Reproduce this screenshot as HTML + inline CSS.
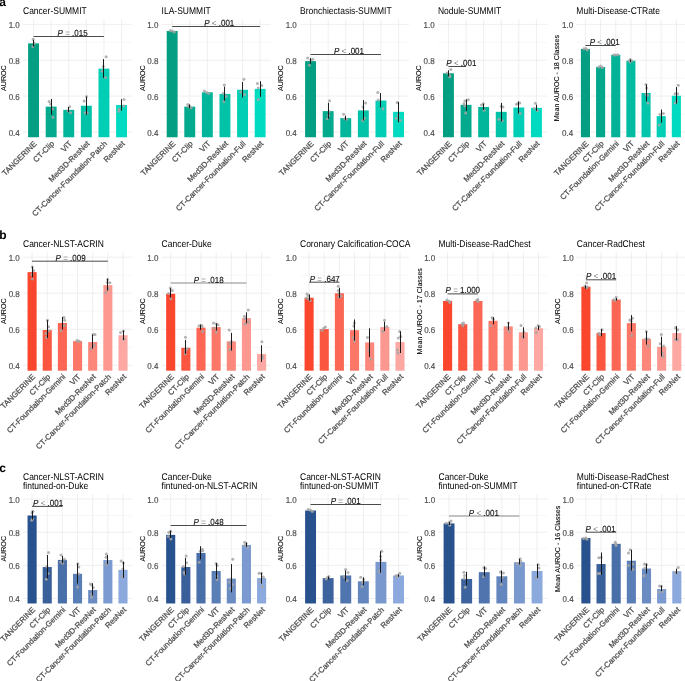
<!DOCTYPE html>
<html><head><meta charset="utf-8"><style>
html,body{margin:0;padding:0;background:#fff;overflow:hidden;width:685px;height:681px;}
svg{display:block;font-family:"Liberation Sans", sans-serif;will-change:transform;}
text{text-rendering:geometricPrecision;}
</style></head><body>
<svg width="685" height="681" viewBox="0 0 685 681">
<rect width="685" height="681" fill="#fff"/>
<text x="-0.8" y="5.7" font-size="12" font-weight="bold" fill="#000">a</text>
<text x="-0.8" y="238.6" font-size="12" font-weight="bold" fill="#000">b</text>
<text x="-0.8" y="472" font-size="12" font-weight="bold" fill="#000">c</text>
<path d="M23 113.98H132.1M23 78.15H132.1M23 42.32H132.1" stroke="#f2f2f2" stroke-width="0.6" fill="none"/>
<path d="M23 131.9H132.1M23 96.07H132.1M23 60.23H132.1M23 24.4H132.1M33.56 19.02V137.28M51.15 19.02V137.28M68.75 19.02V137.28M86.35 19.02V137.28M103.95 19.02V137.28M121.54 19.02V137.28" stroke="#ebebeb" stroke-width="0.8" fill="none"/>
<text transform="translate(19.8,135.5) scale(1,1.08)" text-anchor="end" font-size="8.0" fill="#4d4d4d" stroke="#4d4d4d" stroke-width="0.15">0.4</text>
<text transform="translate(19.8,99.67) scale(1,1.08)" text-anchor="end" font-size="8.0" fill="#4d4d4d" stroke="#4d4d4d" stroke-width="0.15">0.6</text>
<text transform="translate(19.8,63.83) scale(1,1.08)" text-anchor="end" font-size="8.0" fill="#4d4d4d" stroke="#4d4d4d" stroke-width="0.15">0.8</text>
<text transform="translate(19.8,28) scale(1,1.08)" text-anchor="end" font-size="8.0" fill="#4d4d4d" stroke="#4d4d4d" stroke-width="0.15">1.0</text>
<text transform="translate(6,78.15) rotate(-90)" text-anchor="middle" font-size="7.1" fill="#000" stroke="#000" stroke-width="0.1">AUROC</text>
<text transform="translate(23,13.6) scale(1,1.15)" font-size="8.5" fill="#000" stroke="#000" stroke-width="0.0">Cancer-SUMMIT</text>
<rect x="28.1" y="43.39" width="10.91" height="93.88" fill="#049e82"/>
<rect x="45.7" y="106.64" width="10.91" height="30.64" fill="#03aa8e"/>
<rect x="63.3" y="109.86" width="10.91" height="27.41" fill="#02b69b"/>
<rect x="80.89" y="105.74" width="10.91" height="31.53" fill="#02c2a7"/>
<rect x="98.49" y="68.65" width="10.91" height="68.62" fill="#01ceb4"/>
<rect x="116.09" y="105.03" width="10.91" height="32.25" fill="#00dac0"/>
<circle cx="33.2" cy="39.3" r="1.5" fill="#a6a6a6" fill-opacity="0.85"/>
<circle cx="32.9" cy="46.5" r="1.5" fill="#a6a6a6" fill-opacity="0.85"/>
<circle cx="34.3" cy="43.2" r="1.5" fill="#a6a6a6" fill-opacity="0.85"/>
<line x1="33.5" y1="39.9" x2="33.5" y2="46.5" stroke="#111" stroke-width="0.95"/>
<circle cx="49.1" cy="101.4" r="1.5" fill="#a6a6a6" fill-opacity="0.85"/>
<circle cx="52.8" cy="109.1" r="1.5" fill="#a6a6a6" fill-opacity="0.85"/>
<circle cx="53" cy="117.3" r="1.5" fill="#a6a6a6" fill-opacity="0.85"/>
<circle cx="50.5" cy="104" r="1.5" fill="#a6a6a6" fill-opacity="0.85"/>
<line x1="51.5" y1="99" x2="51.5" y2="114.7" stroke="#111" stroke-width="0.95"/>
<circle cx="69.7" cy="106.7" r="1.5" fill="#a6a6a6" fill-opacity="0.85"/>
<circle cx="70.6" cy="112.7" r="1.5" fill="#a6a6a6" fill-opacity="0.85"/>
<circle cx="68" cy="110.7" r="1.5" fill="#a6a6a6" fill-opacity="0.85"/>
<line x1="68.5" y1="107" x2="68.5" y2="112" stroke="#111" stroke-width="0.95"/>
<circle cx="84.1" cy="101.1" r="1.5" fill="#a6a6a6" fill-opacity="0.85"/>
<circle cx="85" cy="112.8" r="1.5" fill="#a6a6a6" fill-opacity="0.85"/>
<circle cx="87.2" cy="112.8" r="1.5" fill="#a6a6a6" fill-opacity="0.85"/>
<circle cx="86.5" cy="96.6" r="1.5" fill="#a6a6a6" fill-opacity="0.85"/>
<line x1="86.5" y1="96.6" x2="86.5" y2="114.8" stroke="#111" stroke-width="0.95"/>
<circle cx="106.2" cy="56.7" r="1.5" fill="#a6a6a6" fill-opacity="0.85"/>
<circle cx="103.2" cy="66.5" r="1.5" fill="#a6a6a6" fill-opacity="0.85"/>
<circle cx="102.1" cy="71.1" r="1.5" fill="#a6a6a6" fill-opacity="0.85"/>
<circle cx="105.6" cy="77.6" r="1.5" fill="#a6a6a6" fill-opacity="0.85"/>
<line x1="103.5" y1="59.1" x2="103.5" y2="77.9" stroke="#111" stroke-width="0.95"/>
<circle cx="124" cy="99.6" r="1.5" fill="#a6a6a6" fill-opacity="0.85"/>
<circle cx="123.8" cy="106" r="1.5" fill="#a6a6a6" fill-opacity="0.85"/>
<circle cx="119.1" cy="109" r="1.5" fill="#a6a6a6" fill-opacity="0.85"/>
<circle cx="118.8" cy="111.3" r="1.5" fill="#a6a6a6" fill-opacity="0.85"/>
<line x1="121.5" y1="99.2" x2="121.5" y2="110.7" stroke="#111" stroke-width="0.95"/>
<text transform="translate(37.26,144.2) rotate(-45)" text-anchor="end" font-size="7.85" fill="#4d4d4d" stroke="#4d4d4d" stroke-width="0.25">TANGERINE</text>
<text transform="translate(54.85,144.2) rotate(-45)" text-anchor="end" font-size="7.85" fill="#4d4d4d" stroke="#4d4d4d" stroke-width="0.25">CT-Clip</text>
<text transform="translate(72.45,144.2) rotate(-45)" text-anchor="end" font-size="7.85" fill="#4d4d4d" stroke="#4d4d4d" stroke-width="0.25">ViT</text>
<text transform="translate(90.05,144.2) rotate(-45)" text-anchor="end" font-size="7.85" fill="#4d4d4d" stroke="#4d4d4d" stroke-width="0.25">Med3D-ResNet</text>
<text transform="translate(107.65,144.2) rotate(-45)" text-anchor="end" font-size="7.85" fill="#4d4d4d" stroke="#4d4d4d" stroke-width="0.25">CT-Cancer-Foundation-Patch</text>
<text transform="translate(125.24,144.2) rotate(-45)" text-anchor="end" font-size="7.85" fill="#4d4d4d" stroke="#4d4d4d" stroke-width="0.25">ResNet</text>
<line x1="33.56" y1="36.5" x2="103.95" y2="36.5" stroke="#4a4a4a" stroke-width="1.0"/>
<text transform="translate(57.55,36) scale(1,1.1)" text-anchor="start" font-size="8.0" fill="#111" stroke="#111" stroke-width="0.12"><tspan font-style="italic">P</tspan> <tspan fill="#6a6a6a" stroke="none">=</tspan> .015</text>
<path d="M161.6 113.98H270.7M161.6 78.15H270.7M161.6 42.32H270.7" stroke="#f2f2f2" stroke-width="0.6" fill="none"/>
<path d="M161.6 131.9H270.7M161.6 96.07H270.7M161.6 60.23H270.7M161.6 24.4H270.7M172.16 19.02V137.28M189.75 19.02V137.28M207.35 19.02V137.28M224.95 19.02V137.28M242.55 19.02V137.28M260.14 19.02V137.28" stroke="#ebebeb" stroke-width="0.8" fill="none"/>
<text transform="translate(158.4,135.5) scale(1,1.08)" text-anchor="end" font-size="8.0" fill="#4d4d4d" stroke="#4d4d4d" stroke-width="0.15">0.4</text>
<text transform="translate(158.4,99.67) scale(1,1.08)" text-anchor="end" font-size="8.0" fill="#4d4d4d" stroke="#4d4d4d" stroke-width="0.15">0.6</text>
<text transform="translate(158.4,63.83) scale(1,1.08)" text-anchor="end" font-size="8.0" fill="#4d4d4d" stroke="#4d4d4d" stroke-width="0.15">0.8</text>
<text transform="translate(158.4,28) scale(1,1.08)" text-anchor="end" font-size="8.0" fill="#4d4d4d" stroke="#4d4d4d" stroke-width="0.15">1.0</text>
<text transform="translate(144.6,78.15) rotate(-90)" text-anchor="middle" font-size="7.1" fill="#000" stroke="#000" stroke-width="0.1">AUROC</text>
<text transform="translate(161.6,13.6) scale(1,1.15)" font-size="8.5" fill="#000" stroke="#000" stroke-width="0.0">ILA-SUMMIT</text>
<rect x="166.7" y="31.03" width="10.91" height="106.25" fill="#049e82"/>
<rect x="184.3" y="106.64" width="10.91" height="30.64" fill="#03aa8e"/>
<rect x="201.9" y="92.3" width="10.91" height="44.97" fill="#02b69b"/>
<rect x="219.49" y="93.92" width="10.91" height="43.36" fill="#02c2a7"/>
<rect x="237.09" y="89.8" width="10.91" height="47.48" fill="#01ceb4"/>
<rect x="254.69" y="88.9" width="10.91" height="48.38" fill="#00dac0"/>
<circle cx="170.3" cy="30.6" r="1.5" fill="#a6a6a6" fill-opacity="0.85"/>
<circle cx="172.3" cy="31" r="1.5" fill="#a6a6a6" fill-opacity="0.85"/>
<circle cx="174.3" cy="31.9" r="1.5" fill="#a6a6a6" fill-opacity="0.85"/>
<circle cx="187.8" cy="104.4" r="1.5" fill="#a6a6a6" fill-opacity="0.85"/>
<circle cx="189.5" cy="105.7" r="1.5" fill="#a6a6a6" fill-opacity="0.85"/>
<circle cx="191.2" cy="107.7" r="1.5" fill="#a6a6a6" fill-opacity="0.85"/>
<circle cx="188.5" cy="106.5" r="1.5" fill="#a6a6a6" fill-opacity="0.85"/>
<line x1="189.5" y1="104.5" x2="189.5" y2="108" stroke="#111" stroke-width="0.95"/>
<circle cx="204.4" cy="91.1" r="1.5" fill="#a6a6a6" fill-opacity="0.85"/>
<circle cx="206.7" cy="92.5" r="1.5" fill="#a6a6a6" fill-opacity="0.85"/>
<circle cx="208.7" cy="93.5" r="1.5" fill="#a6a6a6" fill-opacity="0.85"/>
<circle cx="224.3" cy="85" r="1.5" fill="#a6a6a6" fill-opacity="0.85"/>
<circle cx="223.1" cy="93.5" r="1.5" fill="#a6a6a6" fill-opacity="0.85"/>
<circle cx="226.3" cy="96.3" r="1.5" fill="#a6a6a6" fill-opacity="0.85"/>
<circle cx="223.9" cy="101.6" r="1.5" fill="#a6a6a6" fill-opacity="0.85"/>
<line x1="224.5" y1="86.7" x2="224.5" y2="100.8" stroke="#111" stroke-width="0.95"/>
<circle cx="243.9" cy="79.2" r="1.5" fill="#a6a6a6" fill-opacity="0.85"/>
<circle cx="240.7" cy="91.9" r="1.5" fill="#a6a6a6" fill-opacity="0.85"/>
<circle cx="244.7" cy="94.6" r="1.5" fill="#a6a6a6" fill-opacity="0.85"/>
<line x1="242.5" y1="82" x2="242.5" y2="97.6" stroke="#111" stroke-width="0.95"/>
<circle cx="257.4" cy="83.4" r="1.5" fill="#a6a6a6" fill-opacity="0.85"/>
<circle cx="261.7" cy="85.4" r="1.5" fill="#a6a6a6" fill-opacity="0.85"/>
<circle cx="258.2" cy="87.9" r="1.5" fill="#a6a6a6" fill-opacity="0.85"/>
<circle cx="258.2" cy="99.6" r="1.5" fill="#a6a6a6" fill-opacity="0.85"/>
<line x1="260.5" y1="81.2" x2="260.5" y2="96.8" stroke="#111" stroke-width="0.95"/>
<text transform="translate(175.86,144.2) rotate(-45)" text-anchor="end" font-size="7.85" fill="#4d4d4d" stroke="#4d4d4d" stroke-width="0.25">TANGERINE</text>
<text transform="translate(193.45,144.2) rotate(-45)" text-anchor="end" font-size="7.85" fill="#4d4d4d" stroke="#4d4d4d" stroke-width="0.25">CT-Clip</text>
<text transform="translate(211.05,144.2) rotate(-45)" text-anchor="end" font-size="7.85" fill="#4d4d4d" stroke="#4d4d4d" stroke-width="0.25">ViT</text>
<text transform="translate(228.65,144.2) rotate(-45)" text-anchor="end" font-size="7.85" fill="#4d4d4d" stroke="#4d4d4d" stroke-width="0.25">Med3D-ResNet</text>
<text transform="translate(246.25,144.2) rotate(-45)" text-anchor="end" font-size="7.85" fill="#4d4d4d" stroke="#4d4d4d" stroke-width="0.25">CT-Cancer-Foundation-Full</text>
<text transform="translate(263.84,144.2) rotate(-45)" text-anchor="end" font-size="7.85" fill="#4d4d4d" stroke="#4d4d4d" stroke-width="0.25">ResNet</text>
<line x1="172.16" y1="26.5" x2="260.14" y2="26.5" stroke="#4a4a4a" stroke-width="1.0"/>
<text transform="translate(204.25,26) scale(1,1.1)" text-anchor="start" font-size="8.0" fill="#111" stroke="#111" stroke-width="0.12"><tspan font-style="italic">P</tspan> <tspan fill="#6a6a6a" stroke="none"><</tspan> .001</text>
<path d="M300 113.98H409.1M300 78.15H409.1M300 42.32H409.1" stroke="#f2f2f2" stroke-width="0.6" fill="none"/>
<path d="M300 131.9H409.1M300 96.07H409.1M300 60.23H409.1M300 24.4H409.1M310.56 19.02V137.28M328.15 19.02V137.28M345.75 19.02V137.28M363.35 19.02V137.28M380.95 19.02V137.28M398.54 19.02V137.28" stroke="#ebebeb" stroke-width="0.8" fill="none"/>
<text transform="translate(296.8,135.5) scale(1,1.08)" text-anchor="end" font-size="8.0" fill="#4d4d4d" stroke="#4d4d4d" stroke-width="0.15">0.4</text>
<text transform="translate(296.8,99.67) scale(1,1.08)" text-anchor="end" font-size="8.0" fill="#4d4d4d" stroke="#4d4d4d" stroke-width="0.15">0.6</text>
<text transform="translate(296.8,63.83) scale(1,1.08)" text-anchor="end" font-size="8.0" fill="#4d4d4d" stroke="#4d4d4d" stroke-width="0.15">0.8</text>
<text transform="translate(296.8,28) scale(1,1.08)" text-anchor="end" font-size="8.0" fill="#4d4d4d" stroke="#4d4d4d" stroke-width="0.15">1.0</text>
<text transform="translate(283,78.15) rotate(-90)" text-anchor="middle" font-size="7.1" fill="#000" stroke="#000" stroke-width="0.1">AUROC</text>
<text transform="translate(300,13.6) scale(1,1.15)" font-size="8.5" fill="#000" stroke="#000" stroke-width="0.0">Bronchiectasis-SUMMIT</text>
<rect x="305.1" y="61.13" width="10.91" height="76.15" fill="#049e82"/>
<rect x="322.7" y="111.12" width="10.91" height="26.16" fill="#03aa8e"/>
<rect x="340.3" y="118.1" width="10.91" height="19.17" fill="#02b69b"/>
<rect x="357.89" y="110.4" width="10.91" height="26.88" fill="#02c2a7"/>
<rect x="375.49" y="100.55" width="10.91" height="36.73" fill="#01ceb4"/>
<rect x="393.09" y="111.83" width="10.91" height="25.44" fill="#00dac0"/>
<circle cx="307.6" cy="58.1" r="1.5" fill="#a6a6a6" fill-opacity="0.85"/>
<circle cx="312.8" cy="59.3" r="1.5" fill="#a6a6a6" fill-opacity="0.85"/>
<circle cx="309.2" cy="65.3" r="1.5" fill="#a6a6a6" fill-opacity="0.85"/>
<circle cx="310.7" cy="60.1" r="1.5" fill="#a6a6a6" fill-opacity="0.85"/>
<line x1="310.5" y1="58.1" x2="310.5" y2="63.7" stroke="#111" stroke-width="0.95"/>
<circle cx="329.5" cy="100.8" r="1.5" fill="#a6a6a6" fill-opacity="0.85"/>
<circle cx="329.2" cy="111.6" r="1.5" fill="#a6a6a6" fill-opacity="0.85"/>
<circle cx="328.7" cy="115.2" r="1.5" fill="#a6a6a6" fill-opacity="0.85"/>
<circle cx="327.2" cy="118.8" r="1.5" fill="#a6a6a6" fill-opacity="0.85"/>
<line x1="328.5" y1="102.8" x2="328.5" y2="118.8" stroke="#111" stroke-width="0.95"/>
<circle cx="343.6" cy="114.2" r="1.5" fill="#a6a6a6" fill-opacity="0.85"/>
<circle cx="344.7" cy="118.8" r="1.5" fill="#a6a6a6" fill-opacity="0.85"/>
<circle cx="346.7" cy="119.3" r="1.5" fill="#a6a6a6" fill-opacity="0.85"/>
<line x1="345.5" y1="115.7" x2="345.5" y2="120.3" stroke="#111" stroke-width="0.95"/>
<circle cx="365.6" cy="103" r="1.5" fill="#a6a6a6" fill-opacity="0.85"/>
<circle cx="363" cy="107" r="1.5" fill="#a6a6a6" fill-opacity="0.85"/>
<circle cx="364.5" cy="118.3" r="1.5" fill="#a6a6a6" fill-opacity="0.85"/>
<circle cx="362.7" cy="120.5" r="1.5" fill="#a6a6a6" fill-opacity="0.85"/>
<line x1="363.5" y1="100.1" x2="363.5" y2="120.5" stroke="#111" stroke-width="0.95"/>
<circle cx="377.8" cy="92.4" r="1.5" fill="#a6a6a6" fill-opacity="0.85"/>
<circle cx="378.2" cy="100.1" r="1.5" fill="#a6a6a6" fill-opacity="0.85"/>
<circle cx="383.1" cy="108.8" r="1.5" fill="#a6a6a6" fill-opacity="0.85"/>
<line x1="380.5" y1="93.1" x2="380.5" y2="107.4" stroke="#111" stroke-width="0.95"/>
<circle cx="397.2" cy="102.6" r="1.5" fill="#a6a6a6" fill-opacity="0.85"/>
<circle cx="398.2" cy="115" r="1.5" fill="#a6a6a6" fill-opacity="0.85"/>
<circle cx="396.2" cy="118.3" r="1.5" fill="#a6a6a6" fill-opacity="0.85"/>
<circle cx="400.4" cy="120.5" r="1.5" fill="#a6a6a6" fill-opacity="0.85"/>
<line x1="398.5" y1="101.9" x2="398.5" y2="122.3" stroke="#111" stroke-width="0.95"/>
<text transform="translate(314.26,144.2) rotate(-45)" text-anchor="end" font-size="7.85" fill="#4d4d4d" stroke="#4d4d4d" stroke-width="0.25">TANGERINE</text>
<text transform="translate(331.85,144.2) rotate(-45)" text-anchor="end" font-size="7.85" fill="#4d4d4d" stroke="#4d4d4d" stroke-width="0.25">CT-Clip</text>
<text transform="translate(349.45,144.2) rotate(-45)" text-anchor="end" font-size="7.85" fill="#4d4d4d" stroke="#4d4d4d" stroke-width="0.25">ViT</text>
<text transform="translate(367.05,144.2) rotate(-45)" text-anchor="end" font-size="7.85" fill="#4d4d4d" stroke="#4d4d4d" stroke-width="0.25">Med3D-ResNet</text>
<text transform="translate(384.65,144.2) rotate(-45)" text-anchor="end" font-size="7.85" fill="#4d4d4d" stroke="#4d4d4d" stroke-width="0.25">CT-Cancer-Foundation-Full</text>
<text transform="translate(402.24,144.2) rotate(-45)" text-anchor="end" font-size="7.85" fill="#4d4d4d" stroke="#4d4d4d" stroke-width="0.25">ResNet</text>
<line x1="310.56" y1="54.5" x2="380.95" y2="54.5" stroke="#4a4a4a" stroke-width="1.0"/>
<text transform="translate(333.95,54) scale(1,1.1)" text-anchor="start" font-size="8.0" fill="#111" stroke="#111" stroke-width="0.12"><tspan font-style="italic">P</tspan> <tspan fill="#6a6a6a" stroke="none"><</tspan> .001</text>
<path d="M437.9 113.98H547M437.9 78.15H547M437.9 42.32H547" stroke="#f2f2f2" stroke-width="0.6" fill="none"/>
<path d="M437.9 131.9H547M437.9 96.07H547M437.9 60.23H547M437.9 24.4H547M448.46 19.02V137.28M466.05 19.02V137.28M483.65 19.02V137.28M501.25 19.02V137.28M518.85 19.02V137.28M536.44 19.02V137.28" stroke="#ebebeb" stroke-width="0.8" fill="none"/>
<text transform="translate(434.7,135.5) scale(1,1.08)" text-anchor="end" font-size="8.0" fill="#4d4d4d" stroke="#4d4d4d" stroke-width="0.15">0.4</text>
<text transform="translate(434.7,99.67) scale(1,1.08)" text-anchor="end" font-size="8.0" fill="#4d4d4d" stroke="#4d4d4d" stroke-width="0.15">0.6</text>
<text transform="translate(434.7,63.83) scale(1,1.08)" text-anchor="end" font-size="8.0" fill="#4d4d4d" stroke="#4d4d4d" stroke-width="0.15">0.8</text>
<text transform="translate(434.7,28) scale(1,1.08)" text-anchor="end" font-size="8.0" fill="#4d4d4d" stroke="#4d4d4d" stroke-width="0.15">1.0</text>
<text transform="translate(420.9,78.15) rotate(-90)" text-anchor="middle" font-size="7.1" fill="#000" stroke="#000" stroke-width="0.1">AUROC</text>
<text transform="translate(437.9,13.6) scale(1,1.15)" font-size="8.5" fill="#000" stroke="#000" stroke-width="0.0">Nodule-SUMMIT</text>
<rect x="443" y="73.31" width="10.91" height="63.96" fill="#049e82"/>
<rect x="460.6" y="104.85" width="10.91" height="32.43" fill="#03aa8e"/>
<rect x="478.2" y="107" width="10.91" height="30.28" fill="#02b69b"/>
<rect x="495.79" y="111.83" width="10.91" height="25.44" fill="#02c2a7"/>
<rect x="513.39" y="107.53" width="10.91" height="29.74" fill="#01ceb4"/>
<rect x="530.99" y="107.89" width="10.91" height="29.38" fill="#00dac0"/>
<circle cx="450.9" cy="69.4" r="1.5" fill="#a6a6a6" fill-opacity="0.85"/>
<circle cx="447" cy="72.9" r="1.5" fill="#a6a6a6" fill-opacity="0.85"/>
<circle cx="449.8" cy="75.6" r="1.5" fill="#a6a6a6" fill-opacity="0.85"/>
<circle cx="449.8" cy="76.9" r="1.5" fill="#a6a6a6" fill-opacity="0.85"/>
<line x1="448.5" y1="70.3" x2="448.5" y2="76.4" stroke="#111" stroke-width="0.95"/>
<circle cx="468.3" cy="99.8" r="1.5" fill="#a6a6a6" fill-opacity="0.85"/>
<circle cx="464.8" cy="101.1" r="1.5" fill="#a6a6a6" fill-opacity="0.85"/>
<circle cx="463.9" cy="103.7" r="1.5" fill="#a6a6a6" fill-opacity="0.85"/>
<circle cx="464.8" cy="105.9" r="1.5" fill="#a6a6a6" fill-opacity="0.85"/>
<circle cx="465.6" cy="113" r="1.5" fill="#a6a6a6" fill-opacity="0.85"/>
<line x1="466.5" y1="99.3" x2="466.5" y2="110.8" stroke="#111" stroke-width="0.95"/>
<circle cx="483.3" cy="103.7" r="1.5" fill="#a6a6a6" fill-opacity="0.85"/>
<circle cx="481.5" cy="105" r="1.5" fill="#a6a6a6" fill-opacity="0.85"/>
<circle cx="484.1" cy="110.3" r="1.5" fill="#a6a6a6" fill-opacity="0.85"/>
<line x1="483.5" y1="103.7" x2="483.5" y2="109.9" stroke="#111" stroke-width="0.95"/>
<circle cx="501.2" cy="106.2" r="1.5" fill="#a6a6a6" fill-opacity="0.85"/>
<circle cx="503" cy="106.9" r="1.5" fill="#a6a6a6" fill-opacity="0.85"/>
<circle cx="498.9" cy="119.3" r="1.5" fill="#a6a6a6" fill-opacity="0.85"/>
<circle cx="502.3" cy="120.8" r="1.5" fill="#a6a6a6" fill-opacity="0.85"/>
<line x1="501.5" y1="102.9" x2="501.5" y2="121.5" stroke="#111" stroke-width="0.95"/>
<circle cx="516.5" cy="104.3" r="1.5" fill="#a6a6a6" fill-opacity="0.85"/>
<circle cx="519.8" cy="102.9" r="1.5" fill="#a6a6a6" fill-opacity="0.85"/>
<circle cx="520.2" cy="113.5" r="1.5" fill="#a6a6a6" fill-opacity="0.85"/>
<circle cx="518" cy="103.5" r="1.5" fill="#a6a6a6" fill-opacity="0.85"/>
<line x1="518.5" y1="101.4" x2="518.5" y2="113.5" stroke="#111" stroke-width="0.95"/>
<circle cx="535.4" cy="103.2" r="1.5" fill="#a6a6a6" fill-opacity="0.85"/>
<circle cx="534.1" cy="108.4" r="1.5" fill="#a6a6a6" fill-opacity="0.85"/>
<circle cx="537.4" cy="110.5" r="1.5" fill="#a6a6a6" fill-opacity="0.85"/>
<line x1="536.5" y1="104.7" x2="536.5" y2="110.9" stroke="#111" stroke-width="0.95"/>
<text transform="translate(452.16,144.2) rotate(-45)" text-anchor="end" font-size="7.85" fill="#4d4d4d" stroke="#4d4d4d" stroke-width="0.25">TANGERINE</text>
<text transform="translate(469.75,144.2) rotate(-45)" text-anchor="end" font-size="7.85" fill="#4d4d4d" stroke="#4d4d4d" stroke-width="0.25">CT-Clip</text>
<text transform="translate(487.35,144.2) rotate(-45)" text-anchor="end" font-size="7.85" fill="#4d4d4d" stroke="#4d4d4d" stroke-width="0.25">ViT</text>
<text transform="translate(504.95,144.2) rotate(-45)" text-anchor="end" font-size="7.85" fill="#4d4d4d" stroke="#4d4d4d" stroke-width="0.25">Med3D-ResNet</text>
<text transform="translate(522.55,144.2) rotate(-45)" text-anchor="end" font-size="7.85" fill="#4d4d4d" stroke="#4d4d4d" stroke-width="0.25">CT-Cancer-Foundation-Full</text>
<text transform="translate(540.14,144.2) rotate(-45)" text-anchor="end" font-size="7.85" fill="#4d4d4d" stroke="#4d4d4d" stroke-width="0.25">ResNet</text>
<line x1="448.46" y1="66.5" x2="466.05" y2="66.5" stroke="#4a4a4a" stroke-width="1.0"/>
<text transform="translate(446.35,66) scale(1,1.1)" text-anchor="start" font-size="8.0" fill="#111" stroke="#111" stroke-width="0.12"><tspan font-style="italic">P</tspan> <tspan fill="#6a6a6a" stroke="none"><</tspan> .001</text>
<path d="M576.35 113.98H685.45M576.35 78.15H685.45M576.35 42.32H685.45" stroke="#f2f2f2" stroke-width="0.6" fill="none"/>
<path d="M576.35 131.9H685.45M576.35 96.07H685.45M576.35 60.23H685.45M576.35 24.4H685.45M585.44 19.02V137.28M600.59 19.02V137.28M615.75 19.02V137.28M630.9 19.02V137.28M646.05 19.02V137.28M661.21 19.02V137.28M676.36 19.02V137.28" stroke="#ebebeb" stroke-width="0.8" fill="none"/>
<text transform="translate(573.15,135.5) scale(1,1.08)" text-anchor="end" font-size="8.0" fill="#4d4d4d" stroke="#4d4d4d" stroke-width="0.15">0.4</text>
<text transform="translate(573.15,99.67) scale(1,1.08)" text-anchor="end" font-size="8.0" fill="#4d4d4d" stroke="#4d4d4d" stroke-width="0.15">0.6</text>
<text transform="translate(573.15,63.83) scale(1,1.08)" text-anchor="end" font-size="8.0" fill="#4d4d4d" stroke="#4d4d4d" stroke-width="0.15">0.8</text>
<text transform="translate(573.15,28) scale(1,1.08)" text-anchor="end" font-size="8.0" fill="#4d4d4d" stroke="#4d4d4d" stroke-width="0.15">1.0</text>
<text transform="translate(559.35,78.15) rotate(-90)" text-anchor="middle" font-size="7.1" fill="#000" stroke="#000" stroke-width="0.1">Mean AUROC - 18 Classes</text>
<text transform="translate(576.35,13.6) scale(1,1.15)" font-size="8.5" fill="#000" stroke="#000" stroke-width="0.0">Multi-Disease-CTRate</text>
<rect x="580.9" y="48.95" width="9.09" height="88.33" fill="#049e82"/>
<rect x="596.05" y="67.04" width="9.09" height="70.23" fill="#03a88c"/>
<rect x="611.2" y="54.86" width="9.09" height="82.42" fill="#03b297"/>
<rect x="626.35" y="60.77" width="9.09" height="76.5" fill="#02bca1"/>
<rect x="641.51" y="93.02" width="9.09" height="44.25" fill="#01c6ab"/>
<rect x="656.66" y="116.13" width="9.09" height="21.14" fill="#01d0b6"/>
<rect x="671.81" y="95.71" width="9.09" height="41.57" fill="#00dac0"/>
<circle cx="583.9" cy="48.8" r="1.5" fill="#a6a6a6" fill-opacity="0.85"/>
<circle cx="585.7" cy="48.6" r="1.5" fill="#a6a6a6" fill-opacity="0.85"/>
<circle cx="587.4" cy="49.9" r="1.5" fill="#a6a6a6" fill-opacity="0.85"/>
<circle cx="598.8" cy="67" r="1.5" fill="#a6a6a6" fill-opacity="0.85"/>
<circle cx="600.6" cy="66.1" r="1.5" fill="#a6a6a6" fill-opacity="0.85"/>
<circle cx="602.3" cy="67.4" r="1.5" fill="#a6a6a6" fill-opacity="0.85"/>
<circle cx="613.7" cy="55.1" r="1.5" fill="#a6a6a6" fill-opacity="0.85"/>
<circle cx="615.5" cy="55.1" r="1.5" fill="#a6a6a6" fill-opacity="0.85"/>
<circle cx="617.7" cy="54.7" r="1.5" fill="#a6a6a6" fill-opacity="0.85"/>
<circle cx="629.5" cy="60.4" r="1.5" fill="#a6a6a6" fill-opacity="0.85"/>
<circle cx="630.3" cy="59.5" r="1.5" fill="#a6a6a6" fill-opacity="0.85"/>
<circle cx="631.7" cy="60.8" r="1.5" fill="#a6a6a6" fill-opacity="0.85"/>
<circle cx="629.9" cy="62.1" r="1.5" fill="#a6a6a6" fill-opacity="0.85"/>
<line x1="630.5" y1="59.5" x2="630.5" y2="62" stroke="#111" stroke-width="0.95"/>
<circle cx="645.9" cy="84.5" r="1.5" fill="#a6a6a6" fill-opacity="0.85"/>
<circle cx="646.6" cy="88.1" r="1.5" fill="#a6a6a6" fill-opacity="0.85"/>
<circle cx="646" cy="94.5" r="1.5" fill="#a6a6a6" fill-opacity="0.85"/>
<circle cx="647.8" cy="95.2" r="1.5" fill="#a6a6a6" fill-opacity="0.85"/>
<circle cx="648.1" cy="103.3" r="1.5" fill="#a6a6a6" fill-opacity="0.85"/>
<line x1="646.5" y1="84.5" x2="646.5" y2="101.4" stroke="#111" stroke-width="0.95"/>
<circle cx="660" cy="114.6" r="1.5" fill="#a6a6a6" fill-opacity="0.85"/>
<circle cx="663.3" cy="113.5" r="1.5" fill="#a6a6a6" fill-opacity="0.85"/>
<circle cx="659.2" cy="124.9" r="1.5" fill="#a6a6a6" fill-opacity="0.85"/>
<line x1="661.5" y1="109.5" x2="661.5" y2="122.7" stroke="#111" stroke-width="0.95"/>
<circle cx="678.3" cy="85.3" r="1.5" fill="#a6a6a6" fill-opacity="0.85"/>
<circle cx="675" cy="93.7" r="1.5" fill="#a6a6a6" fill-opacity="0.85"/>
<circle cx="677.6" cy="93.7" r="1.5" fill="#a6a6a6" fill-opacity="0.85"/>
<circle cx="676.8" cy="101.1" r="1.5" fill="#a6a6a6" fill-opacity="0.85"/>
<circle cx="675" cy="102.9" r="1.5" fill="#a6a6a6" fill-opacity="0.85"/>
<line x1="676.5" y1="87.1" x2="676.5" y2="103.6" stroke="#111" stroke-width="0.95"/>
<text transform="translate(589.14,144.2) rotate(-45)" text-anchor="end" font-size="7.85" fill="#4d4d4d" stroke="#4d4d4d" stroke-width="0.25">TANGERINE</text>
<text transform="translate(604.29,144.2) rotate(-45)" text-anchor="end" font-size="7.85" fill="#4d4d4d" stroke="#4d4d4d" stroke-width="0.25">CT-Clip</text>
<text transform="translate(619.45,144.2) rotate(-45)" text-anchor="end" font-size="7.85" fill="#4d4d4d" stroke="#4d4d4d" stroke-width="0.25">CT-Foundation-Gemini</text>
<text transform="translate(634.6,144.2) rotate(-45)" text-anchor="end" font-size="7.85" fill="#4d4d4d" stroke="#4d4d4d" stroke-width="0.25">ViT</text>
<text transform="translate(649.75,144.2) rotate(-45)" text-anchor="end" font-size="7.85" fill="#4d4d4d" stroke="#4d4d4d" stroke-width="0.25">Med3D-ResNet</text>
<text transform="translate(664.91,144.2) rotate(-45)" text-anchor="end" font-size="7.85" fill="#4d4d4d" stroke="#4d4d4d" stroke-width="0.25">CT-Cancer-Foundation-Full</text>
<text transform="translate(680.06,144.2) rotate(-45)" text-anchor="end" font-size="7.85" fill="#4d4d4d" stroke="#4d4d4d" stroke-width="0.25">ResNet</text>
<line x1="585.44" y1="45.5" x2="615.75" y2="45.5" stroke="#4a4a4a" stroke-width="1.0"/>
<text transform="translate(589.65,45) scale(1,1.1)" text-anchor="start" font-size="8.0" fill="#111" stroke="#111" stroke-width="0.12"><tspan font-style="italic">P</tspan> <tspan fill="#6a6a6a" stroke="none"><</tspan> .001</text>
<path d="M23 347.28H132.1M23 311.25H132.1M23 275.22H132.1" stroke="#f2f2f2" stroke-width="0.6" fill="none"/>
<path d="M23 365.3H132.1M23 329.27H132.1M23 293.23H132.1M23 257.2H132.1M32.09 251.79V370.71M47.24 251.79V370.71M62.4 251.79V370.71M77.55 251.79V370.71M92.7 251.79V370.71M107.86 251.79V370.71M123.01 251.79V370.71" stroke="#ebebeb" stroke-width="0.8" fill="none"/>
<text transform="translate(19.8,368.9) scale(1,1.08)" text-anchor="end" font-size="8.0" fill="#4d4d4d" stroke="#4d4d4d" stroke-width="0.15">0.4</text>
<text transform="translate(19.8,332.87) scale(1,1.08)" text-anchor="end" font-size="8.0" fill="#4d4d4d" stroke="#4d4d4d" stroke-width="0.15">0.6</text>
<text transform="translate(19.8,296.83) scale(1,1.08)" text-anchor="end" font-size="8.0" fill="#4d4d4d" stroke="#4d4d4d" stroke-width="0.15">0.8</text>
<text transform="translate(19.8,260.8) scale(1,1.08)" text-anchor="end" font-size="8.0" fill="#4d4d4d" stroke="#4d4d4d" stroke-width="0.15">1.0</text>
<text transform="translate(6,311.25) rotate(-90)" text-anchor="middle" font-size="7.1" fill="#000" stroke="#000" stroke-width="0.1">AUROC</text>
<text transform="translate(23,246.8) scale(1,1.15)" font-size="8.5" fill="#000" stroke="#000" stroke-width="0.0">Cancer-NLST-ACRIN</text>
<rect x="27.55" y="272.15" width="9.09" height="98.55" fill="#fa462c"/>
<rect x="42.7" y="329.99" width="9.09" height="40.72" fill="#fa5640"/>
<rect x="57.85" y="322.96" width="9.09" height="47.74" fill="#fb6754"/>
<rect x="73" y="341.16" width="9.09" height="29.55" fill="#fc7768"/>
<rect x="88.16" y="342.06" width="9.09" height="28.65" fill="#fc877b"/>
<rect x="103.31" y="285.13" width="9.09" height="85.58" fill="#fc988f"/>
<rect x="118.46" y="335.21" width="9.09" height="35.49" fill="#fda8a3"/>
<circle cx="32.3" cy="267" r="1.5" fill="#a6a6a6" fill-opacity="0.85"/>
<circle cx="33.6" cy="270.6" r="1.5" fill="#a6a6a6" fill-opacity="0.85"/>
<circle cx="31.9" cy="274.6" r="1.5" fill="#a6a6a6" fill-opacity="0.85"/>
<circle cx="32.3" cy="278.9" r="1.5" fill="#a6a6a6" fill-opacity="0.85"/>
<line x1="32.5" y1="266.6" x2="32.5" y2="277.2" stroke="#111" stroke-width="0.95"/>
<circle cx="47.5" cy="320.2" r="1.5" fill="#a6a6a6" fill-opacity="0.85"/>
<circle cx="48.5" cy="326.8" r="1.5" fill="#a6a6a6" fill-opacity="0.85"/>
<circle cx="49.1" cy="330.8" r="1.5" fill="#a6a6a6" fill-opacity="0.85"/>
<circle cx="45.9" cy="333.4" r="1.5" fill="#a6a6a6" fill-opacity="0.85"/>
<circle cx="46.4" cy="337.4" r="1.5" fill="#a6a6a6" fill-opacity="0.85"/>
<line x1="47.5" y1="320.2" x2="47.5" y2="338.1" stroke="#111" stroke-width="0.95"/>
<circle cx="64" cy="317.6" r="1.5" fill="#a6a6a6" fill-opacity="0.85"/>
<circle cx="64.7" cy="320.2" r="1.5" fill="#a6a6a6" fill-opacity="0.85"/>
<circle cx="64.3" cy="325.5" r="1.5" fill="#a6a6a6" fill-opacity="0.85"/>
<circle cx="61" cy="330.5" r="1.5" fill="#a6a6a6" fill-opacity="0.85"/>
<line x1="62.5" y1="316.9" x2="62.5" y2="329.5" stroke="#111" stroke-width="0.95"/>
<circle cx="76.9" cy="340.5" r="1.5" fill="#a6a6a6" fill-opacity="0.85"/>
<circle cx="78.1" cy="341.1" r="1.5" fill="#a6a6a6" fill-opacity="0.85"/>
<circle cx="79.4" cy="341.3" r="1.5" fill="#a6a6a6" fill-opacity="0.85"/>
<circle cx="93.1" cy="334.6" r="1.5" fill="#a6a6a6" fill-opacity="0.85"/>
<circle cx="95" cy="334.6" r="1.5" fill="#a6a6a6" fill-opacity="0.85"/>
<circle cx="94.3" cy="345.5" r="1.5" fill="#a6a6a6" fill-opacity="0.85"/>
<circle cx="91.2" cy="348.8" r="1.5" fill="#a6a6a6" fill-opacity="0.85"/>
<line x1="92.5" y1="334.6" x2="92.5" y2="348.6" stroke="#111" stroke-width="0.95"/>
<circle cx="107.7" cy="279.4" r="1.5" fill="#a6a6a6" fill-opacity="0.85"/>
<circle cx="107.4" cy="282.5" r="1.5" fill="#a6a6a6" fill-opacity="0.85"/>
<circle cx="109.9" cy="282.7" r="1.5" fill="#a6a6a6" fill-opacity="0.85"/>
<circle cx="108" cy="288.7" r="1.5" fill="#a6a6a6" fill-opacity="0.85"/>
<circle cx="105.9" cy="292.5" r="1.5" fill="#a6a6a6" fill-opacity="0.85"/>
<line x1="107.5" y1="278.7" x2="107.5" y2="290.6" stroke="#111" stroke-width="0.95"/>
<circle cx="120.5" cy="332.4" r="1.5" fill="#a6a6a6" fill-opacity="0.85"/>
<circle cx="123.4" cy="331.1" r="1.5" fill="#a6a6a6" fill-opacity="0.85"/>
<circle cx="123.9" cy="339.2" r="1.5" fill="#a6a6a6" fill-opacity="0.85"/>
<line x1="123.5" y1="330.5" x2="123.5" y2="339.9" stroke="#111" stroke-width="0.95"/>
<text transform="translate(35.79,377.3) rotate(-45)" text-anchor="end" font-size="7.85" fill="#4d4d4d" stroke="#4d4d4d" stroke-width="0.25">TANGERINE</text>
<text transform="translate(50.94,377.3) rotate(-45)" text-anchor="end" font-size="7.85" fill="#4d4d4d" stroke="#4d4d4d" stroke-width="0.25">CT-Clip</text>
<text transform="translate(66.1,377.3) rotate(-45)" text-anchor="end" font-size="7.85" fill="#4d4d4d" stroke="#4d4d4d" stroke-width="0.25">CT-Foundation-Gemini</text>
<text transform="translate(81.25,377.3) rotate(-45)" text-anchor="end" font-size="7.85" fill="#4d4d4d" stroke="#4d4d4d" stroke-width="0.25">ViT</text>
<text transform="translate(96.4,377.3) rotate(-45)" text-anchor="end" font-size="7.85" fill="#4d4d4d" stroke="#4d4d4d" stroke-width="0.25">Med3D-ResNet</text>
<text transform="translate(111.56,377.3) rotate(-45)" text-anchor="end" font-size="7.85" fill="#4d4d4d" stroke="#4d4d4d" stroke-width="0.25">CT-Cancer-Foundation-Patch</text>
<text transform="translate(126.71,377.3) rotate(-45)" text-anchor="end" font-size="7.85" fill="#4d4d4d" stroke="#4d4d4d" stroke-width="0.25">ResNet</text>
<line x1="32.09" y1="261.2" x2="107.86" y2="261.2" stroke="#4a4a4a" stroke-width="1.0"/>
<text transform="translate(55.55,260.7) scale(1,1.1)" text-anchor="start" font-size="8.0" fill="#111" stroke="#111" stroke-width="0.12"><tspan font-style="italic">P</tspan> <tspan fill="#6a6a6a" stroke="none">=</tspan> .009</text>
<path d="M161.6 347.28H270.7M161.6 311.25H270.7M161.6 275.22H270.7" stroke="#f2f2f2" stroke-width="0.6" fill="none"/>
<path d="M161.6 365.3H270.7M161.6 329.27H270.7M161.6 293.23H270.7M161.6 257.2H270.7M170.69 251.79V370.71M185.84 251.79V370.71M201 251.79V370.71M216.15 251.79V370.71M231.3 251.79V370.71M246.46 251.79V370.71M261.61 251.79V370.71" stroke="#ebebeb" stroke-width="0.8" fill="none"/>
<text transform="translate(158.4,368.9) scale(1,1.08)" text-anchor="end" font-size="8.0" fill="#4d4d4d" stroke="#4d4d4d" stroke-width="0.15">0.4</text>
<text transform="translate(158.4,332.87) scale(1,1.08)" text-anchor="end" font-size="8.0" fill="#4d4d4d" stroke="#4d4d4d" stroke-width="0.15">0.6</text>
<text transform="translate(158.4,296.83) scale(1,1.08)" text-anchor="end" font-size="8.0" fill="#4d4d4d" stroke="#4d4d4d" stroke-width="0.15">0.8</text>
<text transform="translate(158.4,260.8) scale(1,1.08)" text-anchor="end" font-size="8.0" fill="#4d4d4d" stroke="#4d4d4d" stroke-width="0.15">1.0</text>
<text transform="translate(144.6,311.25) rotate(-90)" text-anchor="middle" font-size="7.1" fill="#000" stroke="#000" stroke-width="0.1">AUROC</text>
<text transform="translate(161.6,246.8) scale(1,1.15)" font-size="8.5" fill="#000" stroke="#000" stroke-width="0.0">Cancer-Duke</text>
<rect x="166.15" y="293.77" width="9.09" height="76.93" fill="#fa462c"/>
<rect x="181.3" y="347.82" width="9.09" height="22.88" fill="#fa5640"/>
<rect x="196.45" y="327.65" width="9.09" height="43.06" fill="#fb6754"/>
<rect x="211.6" y="327.1" width="9.09" height="43.6" fill="#fc7768"/>
<rect x="226.76" y="341.34" width="9.09" height="29.37" fill="#fc877b"/>
<rect x="241.91" y="318.1" width="9.09" height="52.61" fill="#fc988f"/>
<rect x="257.06" y="353.95" width="9.09" height="16.76" fill="#fda8a3"/>
<circle cx="170.3" cy="288" r="1.5" fill="#a6a6a6" fill-opacity="0.85"/>
<circle cx="172.3" cy="290.6" r="1.5" fill="#a6a6a6" fill-opacity="0.85"/>
<circle cx="168.5" cy="293.5" r="1.5" fill="#a6a6a6" fill-opacity="0.85"/>
<circle cx="170.9" cy="298.8" r="1.5" fill="#a6a6a6" fill-opacity="0.85"/>
<line x1="170.5" y1="288.2" x2="170.5" y2="297.6" stroke="#111" stroke-width="0.95"/>
<circle cx="185.5" cy="337.3" r="1.5" fill="#a6a6a6" fill-opacity="0.85"/>
<circle cx="187.3" cy="348.7" r="1.5" fill="#a6a6a6" fill-opacity="0.85"/>
<circle cx="185.5" cy="350.4" r="1.5" fill="#a6a6a6" fill-opacity="0.85"/>
<circle cx="185.2" cy="353.7" r="1.5" fill="#a6a6a6" fill-opacity="0.85"/>
<line x1="185.5" y1="339.9" x2="185.5" y2="353.9" stroke="#111" stroke-width="0.95"/>
<circle cx="199" cy="325.8" r="1.5" fill="#a6a6a6" fill-opacity="0.85"/>
<circle cx="201.4" cy="325.2" r="1.5" fill="#a6a6a6" fill-opacity="0.85"/>
<circle cx="202.3" cy="326.4" r="1.5" fill="#a6a6a6" fill-opacity="0.85"/>
<circle cx="202.6" cy="331.6" r="1.5" fill="#a6a6a6" fill-opacity="0.85"/>
<line x1="200.5" y1="324.6" x2="200.5" y2="329.9" stroke="#111" stroke-width="0.95"/>
<circle cx="213.5" cy="322.9" r="1.5" fill="#a6a6a6" fill-opacity="0.85"/>
<circle cx="216.4" cy="323.9" r="1.5" fill="#a6a6a6" fill-opacity="0.85"/>
<circle cx="218" cy="324.8" r="1.5" fill="#a6a6a6" fill-opacity="0.85"/>
<circle cx="214.2" cy="328.1" r="1.5" fill="#a6a6a6" fill-opacity="0.85"/>
<circle cx="216.4" cy="332" r="1.5" fill="#a6a6a6" fill-opacity="0.85"/>
<line x1="216.5" y1="323.4" x2="216.5" y2="330.5" stroke="#111" stroke-width="0.95"/>
<circle cx="229.2" cy="330.1" r="1.5" fill="#a6a6a6" fill-opacity="0.85"/>
<circle cx="231.4" cy="341.5" r="1.5" fill="#a6a6a6" fill-opacity="0.85"/>
<circle cx="230" cy="343.4" r="1.5" fill="#a6a6a6" fill-opacity="0.85"/>
<circle cx="229.8" cy="349.8" r="1.5" fill="#a6a6a6" fill-opacity="0.85"/>
<line x1="231.5" y1="332.9" x2="231.5" y2="350.6" stroke="#111" stroke-width="0.95"/>
<circle cx="248.3" cy="310" r="1.5" fill="#a6a6a6" fill-opacity="0.85"/>
<circle cx="244.3" cy="316.2" r="1.5" fill="#a6a6a6" fill-opacity="0.85"/>
<circle cx="245.2" cy="318.6" r="1.5" fill="#a6a6a6" fill-opacity="0.85"/>
<circle cx="248.6" cy="322.1" r="1.5" fill="#a6a6a6" fill-opacity="0.85"/>
<circle cx="245" cy="323.9" r="1.5" fill="#a6a6a6" fill-opacity="0.85"/>
<line x1="246.5" y1="312.4" x2="246.5" y2="323.4" stroke="#111" stroke-width="0.95"/>
<circle cx="261.9" cy="341.7" r="1.5" fill="#a6a6a6" fill-opacity="0.85"/>
<circle cx="262.4" cy="356.3" r="1.5" fill="#a6a6a6" fill-opacity="0.85"/>
<circle cx="262.4" cy="358.2" r="1.5" fill="#a6a6a6" fill-opacity="0.85"/>
<line x1="261.5" y1="345.3" x2="261.5" y2="362" stroke="#111" stroke-width="0.95"/>
<text transform="translate(174.39,377.3) rotate(-45)" text-anchor="end" font-size="7.85" fill="#4d4d4d" stroke="#4d4d4d" stroke-width="0.25">TANGERINE</text>
<text transform="translate(189.54,377.3) rotate(-45)" text-anchor="end" font-size="7.85" fill="#4d4d4d" stroke="#4d4d4d" stroke-width="0.25">CT-Clip</text>
<text transform="translate(204.7,377.3) rotate(-45)" text-anchor="end" font-size="7.85" fill="#4d4d4d" stroke="#4d4d4d" stroke-width="0.25">CT-Foundation-Gemini</text>
<text transform="translate(219.85,377.3) rotate(-45)" text-anchor="end" font-size="7.85" fill="#4d4d4d" stroke="#4d4d4d" stroke-width="0.25">ViT</text>
<text transform="translate(235,377.3) rotate(-45)" text-anchor="end" font-size="7.85" fill="#4d4d4d" stroke="#4d4d4d" stroke-width="0.25">Med3D-ResNet</text>
<text transform="translate(250.16,377.3) rotate(-45)" text-anchor="end" font-size="7.85" fill="#4d4d4d" stroke="#4d4d4d" stroke-width="0.25">CT-Cancer-Foundation-Patch</text>
<text transform="translate(265.31,377.3) rotate(-45)" text-anchor="end" font-size="7.85" fill="#4d4d4d" stroke="#4d4d4d" stroke-width="0.25">ResNet</text>
<line x1="170.69" y1="283" x2="246.46" y2="283" stroke="#8a8a8a" stroke-width="1.0"/>
<text transform="translate(193.65,282.5) scale(1,1.1)" text-anchor="start" font-size="8.0" fill="#111" stroke="#111" stroke-width="0.12"><tspan font-style="italic">P</tspan> <tspan fill="#6a6a6a" stroke="none">=</tspan> .018</text>
<path d="M300 347.28H409.1M300 311.25H409.1M300 275.22H409.1" stroke="#f2f2f2" stroke-width="0.6" fill="none"/>
<path d="M300 365.3H409.1M300 329.27H409.1M300 293.23H409.1M300 257.2H409.1M309.09 251.79V370.71M324.24 251.79V370.71M339.4 251.79V370.71M354.55 251.79V370.71M369.7 251.79V370.71M384.86 251.79V370.71M400.01 251.79V370.71" stroke="#ebebeb" stroke-width="0.8" fill="none"/>
<text transform="translate(296.8,368.9) scale(1,1.08)" text-anchor="end" font-size="8.0" fill="#4d4d4d" stroke="#4d4d4d" stroke-width="0.15">0.4</text>
<text transform="translate(296.8,332.87) scale(1,1.08)" text-anchor="end" font-size="8.0" fill="#4d4d4d" stroke="#4d4d4d" stroke-width="0.15">0.6</text>
<text transform="translate(296.8,296.83) scale(1,1.08)" text-anchor="end" font-size="8.0" fill="#4d4d4d" stroke="#4d4d4d" stroke-width="0.15">0.8</text>
<text transform="translate(296.8,260.8) scale(1,1.08)" text-anchor="end" font-size="8.0" fill="#4d4d4d" stroke="#4d4d4d" stroke-width="0.15">1.0</text>
<text transform="translate(283,311.25) rotate(-90)" text-anchor="middle" font-size="7.1" fill="#000" stroke="#000" stroke-width="0.1">AUROC</text>
<text transform="translate(300,246.8) scale(1,1.15)" font-size="8.5" fill="#000" stroke="#000" stroke-width="0.0">Coronary Calcification-COCA</text>
<rect x="304.55" y="297.74" width="9.09" height="72.97" fill="#fa462c"/>
<rect x="319.7" y="329.09" width="9.09" height="41.62" fill="#fa5640"/>
<rect x="334.85" y="293.23" width="9.09" height="77.47" fill="#fb6754"/>
<rect x="350" y="330.17" width="9.09" height="40.54" fill="#fc7768"/>
<rect x="365.16" y="342.42" width="9.09" height="28.29" fill="#fc877b"/>
<rect x="380.31" y="327.1" width="9.09" height="43.6" fill="#fc988f"/>
<rect x="395.46" y="342.06" width="9.09" height="28.65" fill="#fda8a3"/>
<circle cx="307" cy="294.1" r="1.5" fill="#a6a6a6" fill-opacity="0.85"/>
<circle cx="308.3" cy="295.4" r="1.5" fill="#a6a6a6" fill-opacity="0.85"/>
<circle cx="306.5" cy="298" r="1.5" fill="#a6a6a6" fill-opacity="0.85"/>
<circle cx="310.2" cy="300.4" r="1.5" fill="#a6a6a6" fill-opacity="0.85"/>
<circle cx="308.7" cy="298.9" r="1.5" fill="#a6a6a6" fill-opacity="0.85"/>
<line x1="309.5" y1="294.5" x2="309.5" y2="300.7" stroke="#111" stroke-width="0.95"/>
<circle cx="321.9" cy="330.2" r="1.5" fill="#a6a6a6" fill-opacity="0.85"/>
<circle cx="323.7" cy="328.2" r="1.5" fill="#a6a6a6" fill-opacity="0.85"/>
<circle cx="325.4" cy="327.1" r="1.5" fill="#a6a6a6" fill-opacity="0.85"/>
<circle cx="338.2" cy="286.2" r="1.5" fill="#a6a6a6" fill-opacity="0.85"/>
<circle cx="338.2" cy="290.6" r="1.5" fill="#a6a6a6" fill-opacity="0.85"/>
<circle cx="339.1" cy="293.2" r="1.5" fill="#a6a6a6" fill-opacity="0.85"/>
<circle cx="340.9" cy="296.3" r="1.5" fill="#a6a6a6" fill-opacity="0.85"/>
<circle cx="338.7" cy="297.2" r="1.5" fill="#a6a6a6" fill-opacity="0.85"/>
<line x1="339.5" y1="287.9" x2="339.5" y2="298" stroke="#111" stroke-width="0.95"/>
<circle cx="354.3" cy="323.1" r="1.5" fill="#a6a6a6" fill-opacity="0.85"/>
<circle cx="353.8" cy="326.1" r="1.5" fill="#a6a6a6" fill-opacity="0.85"/>
<circle cx="353.4" cy="337.6" r="1.5" fill="#a6a6a6" fill-opacity="0.85"/>
<circle cx="354.5" cy="341.1" r="1.5" fill="#a6a6a6" fill-opacity="0.85"/>
<line x1="354.5" y1="319.5" x2="354.5" y2="340.7" stroke="#111" stroke-width="0.95"/>
<circle cx="367.5" cy="337.6" r="1.5" fill="#a6a6a6" fill-opacity="0.85"/>
<circle cx="368.6" cy="349.9" r="1.5" fill="#a6a6a6" fill-opacity="0.85"/>
<circle cx="370.7" cy="358.9" r="1.5" fill="#a6a6a6" fill-opacity="0.85"/>
<line x1="369.5" y1="328.3" x2="369.5" y2="357" stroke="#111" stroke-width="0.95"/>
<circle cx="384.5" cy="320.2" r="1.5" fill="#a6a6a6" fill-opacity="0.85"/>
<circle cx="386.9" cy="326.6" r="1.5" fill="#a6a6a6" fill-opacity="0.85"/>
<circle cx="382.7" cy="331.3" r="1.5" fill="#a6a6a6" fill-opacity="0.85"/>
<line x1="384.5" y1="321.7" x2="384.5" y2="331" stroke="#111" stroke-width="0.95"/>
<circle cx="399.6" cy="331.4" r="1.5" fill="#a6a6a6" fill-opacity="0.85"/>
<circle cx="400.7" cy="336.5" r="1.5" fill="#a6a6a6" fill-opacity="0.85"/>
<circle cx="398.3" cy="338" r="1.5" fill="#a6a6a6" fill-opacity="0.85"/>
<circle cx="397.4" cy="349.9" r="1.5" fill="#a6a6a6" fill-opacity="0.85"/>
<circle cx="398" cy="353" r="1.5" fill="#a6a6a6" fill-opacity="0.85"/>
<line x1="400.5" y1="331.4" x2="400.5" y2="353" stroke="#111" stroke-width="0.95"/>
<text transform="translate(312.79,377.3) rotate(-45)" text-anchor="end" font-size="7.85" fill="#4d4d4d" stroke="#4d4d4d" stroke-width="0.25">TANGERINE</text>
<text transform="translate(327.94,377.3) rotate(-45)" text-anchor="end" font-size="7.85" fill="#4d4d4d" stroke="#4d4d4d" stroke-width="0.25">CT-Clip</text>
<text transform="translate(343.1,377.3) rotate(-45)" text-anchor="end" font-size="7.85" fill="#4d4d4d" stroke="#4d4d4d" stroke-width="0.25">CT-Foundation-Gemini</text>
<text transform="translate(358.25,377.3) rotate(-45)" text-anchor="end" font-size="7.85" fill="#4d4d4d" stroke="#4d4d4d" stroke-width="0.25">ViT</text>
<text transform="translate(373.4,377.3) rotate(-45)" text-anchor="end" font-size="7.85" fill="#4d4d4d" stroke="#4d4d4d" stroke-width="0.25">Med3D-ResNet</text>
<text transform="translate(388.56,377.3) rotate(-45)" text-anchor="end" font-size="7.85" fill="#4d4d4d" stroke="#4d4d4d" stroke-width="0.25">CT-Cancer-Foundation-Full</text>
<text transform="translate(403.71,377.3) rotate(-45)" text-anchor="end" font-size="7.85" fill="#4d4d4d" stroke="#4d4d4d" stroke-width="0.25">ResNet</text>
<line x1="309.09" y1="282.2" x2="339.4" y2="282.2" stroke="#4a4a4a" stroke-width="1.0"/>
<text transform="translate(309.75,281.7) scale(1,1.1)" text-anchor="start" font-size="8.0" fill="#111" stroke="#111" stroke-width="0.12"><tspan font-style="italic">P</tspan> <tspan fill="#6a6a6a" stroke="none">=</tspan> .647</text>
<path d="M438.5 347.28H547.6M438.5 311.25H547.6M438.5 275.22H547.6" stroke="#f2f2f2" stroke-width="0.6" fill="none"/>
<path d="M438.5 365.3H547.6M438.5 329.27H547.6M438.5 293.23H547.6M438.5 257.2H547.6M447.59 251.79V370.71M462.74 251.79V370.71M477.9 251.79V370.71M493.05 251.79V370.71M508.2 251.79V370.71M523.36 251.79V370.71M538.51 251.79V370.71" stroke="#ebebeb" stroke-width="0.8" fill="none"/>
<text transform="translate(435.3,368.9) scale(1,1.08)" text-anchor="end" font-size="8.0" fill="#4d4d4d" stroke="#4d4d4d" stroke-width="0.15">0.4</text>
<text transform="translate(435.3,332.87) scale(1,1.08)" text-anchor="end" font-size="8.0" fill="#4d4d4d" stroke="#4d4d4d" stroke-width="0.15">0.6</text>
<text transform="translate(435.3,296.83) scale(1,1.08)" text-anchor="end" font-size="8.0" fill="#4d4d4d" stroke="#4d4d4d" stroke-width="0.15">0.8</text>
<text transform="translate(435.3,260.8) scale(1,1.08)" text-anchor="end" font-size="8.0" fill="#4d4d4d" stroke="#4d4d4d" stroke-width="0.15">1.0</text>
<text transform="translate(421.5,311.25) rotate(-90)" text-anchor="middle" font-size="7.1" fill="#000" stroke="#000" stroke-width="0.1">Mean AUROC - 17 Classes</text>
<text transform="translate(438.5,246.8) scale(1,1.15)" font-size="8.5" fill="#000" stroke="#000" stroke-width="0.0">Multi-Disease-RadChest</text>
<rect x="443.05" y="300.98" width="9.09" height="69.72" fill="#fa462c"/>
<rect x="458.2" y="324.22" width="9.09" height="46.48" fill="#fa5640"/>
<rect x="473.35" y="300.98" width="9.09" height="69.72" fill="#fb6754"/>
<rect x="488.5" y="320.8" width="9.09" height="49.91" fill="#fc7768"/>
<rect x="503.66" y="326.38" width="9.09" height="44.32" fill="#fc877b"/>
<rect x="518.81" y="332.33" width="9.09" height="38.38" fill="#fc988f"/>
<rect x="533.96" y="328.19" width="9.09" height="42.52" fill="#fda8a3"/>
<circle cx="446.8" cy="300" r="1.5" fill="#a6a6a6" fill-opacity="0.85"/>
<circle cx="449" cy="301" r="1.5" fill="#a6a6a6" fill-opacity="0.85"/>
<circle cx="449.8" cy="302.5" r="1.5" fill="#a6a6a6" fill-opacity="0.85"/>
<circle cx="462.2" cy="323.7" r="1.5" fill="#a6a6a6" fill-opacity="0.85"/>
<circle cx="462.9" cy="325.8" r="1.5" fill="#a6a6a6" fill-opacity="0.85"/>
<circle cx="463.6" cy="322.9" r="1.5" fill="#a6a6a6" fill-opacity="0.85"/>
<circle cx="476.8" cy="300.3" r="1.5" fill="#a6a6a6" fill-opacity="0.85"/>
<circle cx="477.8" cy="299.6" r="1.5" fill="#a6a6a6" fill-opacity="0.85"/>
<circle cx="478.2" cy="301.5" r="1.5" fill="#a6a6a6" fill-opacity="0.85"/>
<circle cx="492.1" cy="317.8" r="1.5" fill="#a6a6a6" fill-opacity="0.85"/>
<circle cx="493.3" cy="319.3" r="1.5" fill="#a6a6a6" fill-opacity="0.85"/>
<circle cx="490.6" cy="325.8" r="1.5" fill="#a6a6a6" fill-opacity="0.85"/>
<line x1="493.5" y1="317.1" x2="493.5" y2="324.4" stroke="#111" stroke-width="0.95"/>
<circle cx="508.4" cy="322.9" r="1.5" fill="#a6a6a6" fill-opacity="0.85"/>
<circle cx="507.4" cy="327.3" r="1.5" fill="#a6a6a6" fill-opacity="0.85"/>
<circle cx="508.9" cy="331.2" r="1.5" fill="#a6a6a6" fill-opacity="0.85"/>
<line x1="508.5" y1="322.2" x2="508.5" y2="330.2" stroke="#111" stroke-width="0.95"/>
<circle cx="521" cy="325.4" r="1.5" fill="#a6a6a6" fill-opacity="0.85"/>
<circle cx="523.9" cy="332.1" r="1.5" fill="#a6a6a6" fill-opacity="0.85"/>
<circle cx="522.8" cy="336.8" r="1.5" fill="#a6a6a6" fill-opacity="0.85"/>
<line x1="523.5" y1="327.3" x2="523.5" y2="338.3" stroke="#111" stroke-width="0.95"/>
<circle cx="538.1" cy="325.4" r="1.5" fill="#a6a6a6" fill-opacity="0.85"/>
<circle cx="535.9" cy="328" r="1.5" fill="#a6a6a6" fill-opacity="0.85"/>
<circle cx="536.2" cy="332.4" r="1.5" fill="#a6a6a6" fill-opacity="0.85"/>
<circle cx="539.5" cy="326.6" r="1.5" fill="#a6a6a6" fill-opacity="0.85"/>
<line x1="538.5" y1="325.8" x2="538.5" y2="330.2" stroke="#111" stroke-width="0.95"/>
<text transform="translate(451.29,377.3) rotate(-45)" text-anchor="end" font-size="7.85" fill="#4d4d4d" stroke="#4d4d4d" stroke-width="0.25">TANGERINE</text>
<text transform="translate(466.44,377.3) rotate(-45)" text-anchor="end" font-size="7.85" fill="#4d4d4d" stroke="#4d4d4d" stroke-width="0.25">CT-Clip</text>
<text transform="translate(481.6,377.3) rotate(-45)" text-anchor="end" font-size="7.85" fill="#4d4d4d" stroke="#4d4d4d" stroke-width="0.25">CT-Foundation-Gemini</text>
<text transform="translate(496.75,377.3) rotate(-45)" text-anchor="end" font-size="7.85" fill="#4d4d4d" stroke="#4d4d4d" stroke-width="0.25">ViT</text>
<text transform="translate(511.9,377.3) rotate(-45)" text-anchor="end" font-size="7.85" fill="#4d4d4d" stroke="#4d4d4d" stroke-width="0.25">Med3D-ResNet</text>
<text transform="translate(527.06,377.3) rotate(-45)" text-anchor="end" font-size="7.85" fill="#4d4d4d" stroke="#4d4d4d" stroke-width="0.25">CT-Cancer-Foundation-Full</text>
<text transform="translate(542.21,377.3) rotate(-45)" text-anchor="end" font-size="7.85" fill="#4d4d4d" stroke="#4d4d4d" stroke-width="0.25">ResNet</text>
<line x1="447.59" y1="293.9" x2="477.9" y2="293.9" stroke="#4a4a4a" stroke-width="1.0"/>
<text transform="translate(445.55,293.4) scale(1,1.1)" text-anchor="start" font-size="8.0" fill="#111" stroke="#111" stroke-width="0.12"><tspan font-style="italic">P</tspan> <tspan fill="#6a6a6a" stroke="none">=</tspan> 1.000</text>
<path d="M576.8 347.28H685.9M576.8 311.25H685.9M576.8 275.22H685.9" stroke="#f2f2f2" stroke-width="0.6" fill="none"/>
<path d="M576.8 365.3H685.9M576.8 329.27H685.9M576.8 293.23H685.9M576.8 257.2H685.9M585.89 251.79V370.71M601.04 251.79V370.71M616.2 251.79V370.71M631.35 251.79V370.71M646.5 251.79V370.71M661.66 251.79V370.71M676.81 251.79V370.71" stroke="#ebebeb" stroke-width="0.8" fill="none"/>
<text transform="translate(573.6,368.9) scale(1,1.08)" text-anchor="end" font-size="8.0" fill="#4d4d4d" stroke="#4d4d4d" stroke-width="0.15">0.4</text>
<text transform="translate(573.6,332.87) scale(1,1.08)" text-anchor="end" font-size="8.0" fill="#4d4d4d" stroke="#4d4d4d" stroke-width="0.15">0.6</text>
<text transform="translate(573.6,296.83) scale(1,1.08)" text-anchor="end" font-size="8.0" fill="#4d4d4d" stroke="#4d4d4d" stroke-width="0.15">0.8</text>
<text transform="translate(573.6,260.8) scale(1,1.08)" text-anchor="end" font-size="8.0" fill="#4d4d4d" stroke="#4d4d4d" stroke-width="0.15">1.0</text>
<text transform="translate(559.8,311.25) rotate(-90)" text-anchor="middle" font-size="7.1" fill="#000" stroke="#000" stroke-width="0.1">AUROC</text>
<text transform="translate(576.8,246.8) scale(1,1.15)" font-size="8.5" fill="#000" stroke="#000" stroke-width="0.0">Cancer-RadChest</text>
<rect x="581.35" y="286.75" width="9.09" height="83.96" fill="#fa462c"/>
<rect x="596.5" y="333.05" width="9.09" height="37.65" fill="#fa5640"/>
<rect x="611.65" y="299.54" width="9.09" height="71.17" fill="#fb6754"/>
<rect x="626.8" y="323.14" width="9.09" height="47.56" fill="#fc7768"/>
<rect x="641.96" y="338.82" width="9.09" height="31.89" fill="#fc877b"/>
<rect x="657.11" y="346.74" width="9.09" height="23.96" fill="#fc988f"/>
<rect x="672.26" y="333.05" width="9.09" height="37.65" fill="#fda8a3"/>
<circle cx="586.6" cy="283.1" r="1.5" fill="#a6a6a6" fill-opacity="0.85"/>
<circle cx="584.8" cy="286.6" r="1.5" fill="#a6a6a6" fill-opacity="0.85"/>
<circle cx="586.3" cy="287.7" r="1.5" fill="#a6a6a6" fill-opacity="0.85"/>
<circle cx="587.5" cy="287" r="1.5" fill="#a6a6a6" fill-opacity="0.85"/>
<line x1="585.5" y1="285.3" x2="585.5" y2="288.8" stroke="#111" stroke-width="0.95"/>
<circle cx="602" cy="329.7" r="1.5" fill="#a6a6a6" fill-opacity="0.85"/>
<circle cx="598.9" cy="333.3" r="1.5" fill="#a6a6a6" fill-opacity="0.85"/>
<circle cx="599.8" cy="335" r="1.5" fill="#a6a6a6" fill-opacity="0.85"/>
<line x1="601.5" y1="328.9" x2="601.5" y2="336.3" stroke="#111" stroke-width="0.95"/>
<circle cx="616.1" cy="297.2" r="1.5" fill="#a6a6a6" fill-opacity="0.85"/>
<circle cx="613.9" cy="299.8" r="1.5" fill="#a6a6a6" fill-opacity="0.85"/>
<circle cx="615.2" cy="300.2" r="1.5" fill="#a6a6a6" fill-opacity="0.85"/>
<line x1="616.5" y1="298" x2="616.5" y2="300.7" stroke="#111" stroke-width="0.95"/>
<circle cx="632.5" cy="318.2" r="1.5" fill="#a6a6a6" fill-opacity="0.85"/>
<circle cx="629.8" cy="320" r="1.5" fill="#a6a6a6" fill-opacity="0.85"/>
<circle cx="631.2" cy="321.3" r="1.5" fill="#a6a6a6" fill-opacity="0.85"/>
<circle cx="631.6" cy="335.4" r="1.5" fill="#a6a6a6" fill-opacity="0.85"/>
<line x1="631.5" y1="315.1" x2="631.5" y2="331.4" stroke="#111" stroke-width="0.95"/>
<circle cx="646.3" cy="331.4" r="1.5" fill="#a6a6a6" fill-opacity="0.85"/>
<circle cx="645.7" cy="338.9" r="1.5" fill="#a6a6a6" fill-opacity="0.85"/>
<circle cx="648.1" cy="338.9" r="1.5" fill="#a6a6a6" fill-opacity="0.85"/>
<circle cx="648.1" cy="346" r="1.5" fill="#a6a6a6" fill-opacity="0.85"/>
<line x1="646.5" y1="331.4" x2="646.5" y2="344.6" stroke="#111" stroke-width="0.95"/>
<circle cx="661.3" cy="334.5" r="1.5" fill="#a6a6a6" fill-opacity="0.85"/>
<circle cx="660.2" cy="343.8" r="1.5" fill="#a6a6a6" fill-opacity="0.85"/>
<circle cx="663.6" cy="346" r="1.5" fill="#a6a6a6" fill-opacity="0.85"/>
<circle cx="662.4" cy="353" r="1.5" fill="#a6a6a6" fill-opacity="0.85"/>
<circle cx="663.3" cy="356.5" r="1.5" fill="#a6a6a6" fill-opacity="0.85"/>
<line x1="661.5" y1="336.7" x2="661.5" y2="356.5" stroke="#111" stroke-width="0.95"/>
<circle cx="675.4" cy="327.7" r="1.5" fill="#a6a6a6" fill-opacity="0.85"/>
<circle cx="677.7" cy="329.7" r="1.5" fill="#a6a6a6" fill-opacity="0.85"/>
<circle cx="675.7" cy="339.4" r="1.5" fill="#a6a6a6" fill-opacity="0.85"/>
<circle cx="677.4" cy="339.8" r="1.5" fill="#a6a6a6" fill-opacity="0.85"/>
<line x1="676.5" y1="326.1" x2="676.5" y2="340.2" stroke="#111" stroke-width="0.95"/>
<text transform="translate(589.59,377.3) rotate(-45)" text-anchor="end" font-size="7.85" fill="#4d4d4d" stroke="#4d4d4d" stroke-width="0.25">TANGERINE</text>
<text transform="translate(604.74,377.3) rotate(-45)" text-anchor="end" font-size="7.85" fill="#4d4d4d" stroke="#4d4d4d" stroke-width="0.25">CT-Clip</text>
<text transform="translate(619.9,377.3) rotate(-45)" text-anchor="end" font-size="7.85" fill="#4d4d4d" stroke="#4d4d4d" stroke-width="0.25">CT-Foundation-Gemini</text>
<text transform="translate(635.05,377.3) rotate(-45)" text-anchor="end" font-size="7.85" fill="#4d4d4d" stroke="#4d4d4d" stroke-width="0.25">ViT</text>
<text transform="translate(650.2,377.3) rotate(-45)" text-anchor="end" font-size="7.85" fill="#4d4d4d" stroke="#4d4d4d" stroke-width="0.25">Med3D-ResNet</text>
<text transform="translate(665.36,377.3) rotate(-45)" text-anchor="end" font-size="7.85" fill="#4d4d4d" stroke="#4d4d4d" stroke-width="0.25">CT-Cancer-Foundation-Full</text>
<text transform="translate(680.51,377.3) rotate(-45)" text-anchor="end" font-size="7.85" fill="#4d4d4d" stroke="#4d4d4d" stroke-width="0.25">ResNet</text>
<line x1="585.89" y1="279.8" x2="616.2" y2="279.8" stroke="#4a4a4a" stroke-width="1.0"/>
<text transform="translate(586.05,279.3) scale(1,1.1)" text-anchor="start" font-size="8.0" fill="#111" stroke="#111" stroke-width="0.12"><tspan font-style="italic">P</tspan> <tspan fill="#6a6a6a" stroke="none"><</tspan> .001</text>
<path d="M23 581.93H132.1M23 548.8H132.1M23 515.67H132.1" stroke="#f2f2f2" stroke-width="0.6" fill="none"/>
<path d="M23 598.5H132.1M23 565.37H132.1M23 532.23H132.1M23 499.1H132.1M32.09 494.13V603.47M47.24 494.13V603.47M62.4 494.13V603.47M77.55 494.13V603.47M92.7 494.13V603.47M107.86 494.13V603.47M123.01 494.13V603.47" stroke="#ebebeb" stroke-width="0.8" fill="none"/>
<text transform="translate(19.8,602.1) scale(1,1.08)" text-anchor="end" font-size="8.0" fill="#4d4d4d" stroke="#4d4d4d" stroke-width="0.15">0.4</text>
<text transform="translate(19.8,568.97) scale(1,1.08)" text-anchor="end" font-size="8.0" fill="#4d4d4d" stroke="#4d4d4d" stroke-width="0.15">0.6</text>
<text transform="translate(19.8,535.83) scale(1,1.08)" text-anchor="end" font-size="8.0" fill="#4d4d4d" stroke="#4d4d4d" stroke-width="0.15">0.8</text>
<text transform="translate(19.8,502.7) scale(1,1.08)" text-anchor="end" font-size="8.0" fill="#4d4d4d" stroke="#4d4d4d" stroke-width="0.15">1.0</text>
<text transform="translate(6,548.8) rotate(-90)" text-anchor="middle" font-size="7.1" fill="#000" stroke="#000" stroke-width="0.1">AUROC</text>
<text transform="translate(23,479.6) scale(1,1.15)" font-size="8.5" fill="#000" stroke="#000" stroke-width="0.0">Cancer-NLST-ACRIN</text>
<text transform="translate(23,489.2) scale(1,1.15)" font-size="8.5" fill="#000" stroke="#000" stroke-width="0.0">fintuned-on-Duke</text>
<rect x="27.55" y="515.5" width="9.09" height="87.97" fill="#28528e"/>
<rect x="42.7" y="567.02" width="9.09" height="36.45" fill="#39609b"/>
<rect x="57.85" y="559.9" width="9.09" height="43.57" fill="#496fa9"/>
<rect x="73" y="573.82" width="9.09" height="29.65" fill="#5a7eb6"/>
<rect x="88.16" y="590.05" width="9.09" height="13.42" fill="#6b8cc3"/>
<rect x="103.31" y="560.07" width="9.09" height="43.4" fill="#7b9ad1"/>
<rect x="118.46" y="569.84" width="9.09" height="33.63" fill="#8ca9de"/>
<circle cx="32.9" cy="511.3" r="1.5" fill="#a6a6a6" fill-opacity="0.85"/>
<circle cx="31.9" cy="512.9" r="1.5" fill="#a6a6a6" fill-opacity="0.85"/>
<circle cx="31.6" cy="520.2" r="1.5" fill="#a6a6a6" fill-opacity="0.85"/>
<circle cx="32.7" cy="518.9" r="1.5" fill="#a6a6a6" fill-opacity="0.85"/>
<line x1="32.5" y1="511" x2="32.5" y2="519.6" stroke="#111" stroke-width="0.95"/>
<circle cx="48.5" cy="552.4" r="1.5" fill="#a6a6a6" fill-opacity="0.85"/>
<circle cx="46.8" cy="566.5" r="1.5" fill="#a6a6a6" fill-opacity="0.85"/>
<circle cx="48.1" cy="573.5" r="1.5" fill="#a6a6a6" fill-opacity="0.85"/>
<circle cx="46.2" cy="579.3" r="1.5" fill="#a6a6a6" fill-opacity="0.85"/>
<line x1="47.5" y1="555" x2="47.5" y2="578.4" stroke="#111" stroke-width="0.95"/>
<circle cx="61" cy="555" r="1.5" fill="#a6a6a6" fill-opacity="0.85"/>
<circle cx="64.4" cy="559.2" r="1.5" fill="#a6a6a6" fill-opacity="0.85"/>
<circle cx="60.7" cy="562.1" r="1.5" fill="#a6a6a6" fill-opacity="0.85"/>
<circle cx="62.7" cy="563.2" r="1.5" fill="#a6a6a6" fill-opacity="0.85"/>
<line x1="62.5" y1="555.9" x2="62.5" y2="563.2" stroke="#111" stroke-width="0.95"/>
<circle cx="77.9" cy="563.8" r="1.5" fill="#a6a6a6" fill-opacity="0.85"/>
<circle cx="78.8" cy="566.9" r="1.5" fill="#a6a6a6" fill-opacity="0.85"/>
<circle cx="78.8" cy="573.9" r="1.5" fill="#a6a6a6" fill-opacity="0.85"/>
<circle cx="77.5" cy="587.1" r="1.5" fill="#a6a6a6" fill-opacity="0.85"/>
<line x1="77.5" y1="563.3" x2="77.5" y2="583.6" stroke="#111" stroke-width="0.95"/>
<circle cx="90.4" cy="584.1" r="1.5" fill="#a6a6a6" fill-opacity="0.85"/>
<circle cx="91.6" cy="584.9" r="1.5" fill="#a6a6a6" fill-opacity="0.85"/>
<circle cx="93.3" cy="587.6" r="1.5" fill="#a6a6a6" fill-opacity="0.85"/>
<circle cx="91.6" cy="594.2" r="1.5" fill="#a6a6a6" fill-opacity="0.85"/>
<circle cx="91.6" cy="597.3" r="1.5" fill="#a6a6a6" fill-opacity="0.85"/>
<line x1="92.5" y1="583.2" x2="92.5" y2="595.5" stroke="#111" stroke-width="0.95"/>
<circle cx="106.3" cy="554.1" r="1.5" fill="#a6a6a6" fill-opacity="0.85"/>
<circle cx="106.1" cy="557.2" r="1.5" fill="#a6a6a6" fill-opacity="0.85"/>
<circle cx="107.9" cy="562.5" r="1.5" fill="#a6a6a6" fill-opacity="0.85"/>
<circle cx="106.1" cy="564.7" r="1.5" fill="#a6a6a6" fill-opacity="0.85"/>
<line x1="107.5" y1="555" x2="107.5" y2="564.2" stroke="#111" stroke-width="0.95"/>
<circle cx="121.1" cy="561.1" r="1.5" fill="#a6a6a6" fill-opacity="0.85"/>
<circle cx="123.3" cy="562.9" r="1.5" fill="#a6a6a6" fill-opacity="0.85"/>
<circle cx="122.4" cy="576.6" r="1.5" fill="#a6a6a6" fill-opacity="0.85"/>
<circle cx="122.9" cy="569.1" r="1.5" fill="#a6a6a6" fill-opacity="0.85"/>
<line x1="123.5" y1="561.6" x2="123.5" y2="577.9" stroke="#111" stroke-width="0.95"/>
<text transform="translate(35.79,610.3) rotate(-45)" text-anchor="end" font-size="7.85" fill="#4d4d4d" stroke="#4d4d4d" stroke-width="0.25">TANGERINE</text>
<text transform="translate(50.94,610.3) rotate(-45)" text-anchor="end" font-size="7.85" fill="#4d4d4d" stroke="#4d4d4d" stroke-width="0.25">CT-Clip</text>
<text transform="translate(66.1,610.3) rotate(-45)" text-anchor="end" font-size="7.85" fill="#4d4d4d" stroke="#4d4d4d" stroke-width="0.25">CT-Foundation-Gemini</text>
<text transform="translate(81.25,610.3) rotate(-45)" text-anchor="end" font-size="7.85" fill="#4d4d4d" stroke="#4d4d4d" stroke-width="0.25">ViT</text>
<text transform="translate(96.4,610.3) rotate(-45)" text-anchor="end" font-size="7.85" fill="#4d4d4d" stroke="#4d4d4d" stroke-width="0.25">Med3D-ResNet</text>
<text transform="translate(111.56,610.3) rotate(-45)" text-anchor="end" font-size="7.85" fill="#4d4d4d" stroke="#4d4d4d" stroke-width="0.25">CT-Cancer-Foundation-Patch</text>
<text transform="translate(126.71,610.3) rotate(-45)" text-anchor="end" font-size="7.85" fill="#4d4d4d" stroke="#4d4d4d" stroke-width="0.25">ResNet</text>
<line x1="32.09" y1="506.4" x2="62.4" y2="506.4" stroke="#4a4a4a" stroke-width="1.0"/>
<text transform="translate(33.05,505.9) scale(1,1.1)" text-anchor="start" font-size="8.0" fill="#111" stroke="#111" stroke-width="0.12"><tspan font-style="italic">P</tspan> <tspan fill="#6a6a6a" stroke="none"><</tspan> .001</text>
<path d="M161.6 581.93H270.7M161.6 548.8H270.7M161.6 515.67H270.7" stroke="#f2f2f2" stroke-width="0.6" fill="none"/>
<path d="M161.6 598.5H270.7M161.6 565.37H270.7M161.6 532.23H270.7M161.6 499.1H270.7M170.69 494.13V603.47M185.84 494.13V603.47M201 494.13V603.47M216.15 494.13V603.47M231.3 494.13V603.47M246.46 494.13V603.47M261.61 494.13V603.47" stroke="#ebebeb" stroke-width="0.8" fill="none"/>
<text transform="translate(158.4,602.1) scale(1,1.08)" text-anchor="end" font-size="8.0" fill="#4d4d4d" stroke="#4d4d4d" stroke-width="0.15">0.4</text>
<text transform="translate(158.4,568.97) scale(1,1.08)" text-anchor="end" font-size="8.0" fill="#4d4d4d" stroke="#4d4d4d" stroke-width="0.15">0.6</text>
<text transform="translate(158.4,535.83) scale(1,1.08)" text-anchor="end" font-size="8.0" fill="#4d4d4d" stroke="#4d4d4d" stroke-width="0.15">0.8</text>
<text transform="translate(158.4,502.7) scale(1,1.08)" text-anchor="end" font-size="8.0" fill="#4d4d4d" stroke="#4d4d4d" stroke-width="0.15">1.0</text>
<text transform="translate(144.6,548.8) rotate(-90)" text-anchor="middle" font-size="7.1" fill="#000" stroke="#000" stroke-width="0.1">AUROC</text>
<text transform="translate(161.6,479.6) scale(1,1.15)" font-size="8.5" fill="#000" stroke="#000" stroke-width="0.0">Cancer-Duke</text>
<text transform="translate(161.6,489.2) scale(1,1.15)" font-size="8.5" fill="#000" stroke="#000" stroke-width="0.0">fintuned-on-NLST-ACRIN</text>
<rect x="166.15" y="534.88" width="9.09" height="68.59" fill="#28528e"/>
<rect x="181.3" y="567.02" width="9.09" height="36.45" fill="#39609b"/>
<rect x="196.45" y="552.94" width="9.09" height="50.53" fill="#496fa9"/>
<rect x="211.6" y="571" width="9.09" height="32.47" fill="#5a7eb6"/>
<rect x="226.76" y="578.62" width="9.09" height="24.85" fill="#6b8cc3"/>
<rect x="241.91" y="544.99" width="9.09" height="58.48" fill="#7b9ad1"/>
<rect x="257.06" y="578.12" width="9.09" height="25.35" fill="#8ca9de"/>
<circle cx="170.7" cy="531.2" r="1.5" fill="#a6a6a6" fill-opacity="0.85"/>
<circle cx="168.8" cy="532.6" r="1.5" fill="#a6a6a6" fill-opacity="0.85"/>
<circle cx="168.3" cy="536.5" r="1.5" fill="#a6a6a6" fill-opacity="0.85"/>
<circle cx="170.9" cy="539.1" r="1.5" fill="#a6a6a6" fill-opacity="0.85"/>
<line x1="170.5" y1="530.7" x2="170.5" y2="537.9" stroke="#111" stroke-width="0.95"/>
<circle cx="186.2" cy="556" r="1.5" fill="#a6a6a6" fill-opacity="0.85"/>
<circle cx="186.5" cy="562.7" r="1.5" fill="#a6a6a6" fill-opacity="0.85"/>
<circle cx="183.3" cy="566.5" r="1.5" fill="#a6a6a6" fill-opacity="0.85"/>
<circle cx="184.1" cy="572.2" r="1.5" fill="#a6a6a6" fill-opacity="0.85"/>
<circle cx="184.6" cy="574.1" r="1.5" fill="#a6a6a6" fill-opacity="0.85"/>
<line x1="185.5" y1="557.9" x2="185.5" y2="575.1" stroke="#111" stroke-width="0.95"/>
<circle cx="202.2" cy="549.3" r="1.5" fill="#a6a6a6" fill-opacity="0.85"/>
<circle cx="202.7" cy="550.8" r="1.5" fill="#a6a6a6" fill-opacity="0.85"/>
<circle cx="200.3" cy="551.2" r="1.5" fill="#a6a6a6" fill-opacity="0.85"/>
<circle cx="199.2" cy="562.2" r="1.5" fill="#a6a6a6" fill-opacity="0.85"/>
<line x1="200.5" y1="546.2" x2="200.5" y2="559.4" stroke="#111" stroke-width="0.95"/>
<circle cx="216.1" cy="563.6" r="1.5" fill="#a6a6a6" fill-opacity="0.85"/>
<circle cx="217.1" cy="565.5" r="1.5" fill="#a6a6a6" fill-opacity="0.85"/>
<circle cx="217.1" cy="576" r="1.5" fill="#a6a6a6" fill-opacity="0.85"/>
<circle cx="217.1" cy="579.4" r="1.5" fill="#a6a6a6" fill-opacity="0.85"/>
<line x1="216.5" y1="563.1" x2="216.5" y2="578.9" stroke="#111" stroke-width="0.95"/>
<circle cx="232.8" cy="559.3" r="1.5" fill="#a6a6a6" fill-opacity="0.85"/>
<circle cx="230.9" cy="578.9" r="1.5" fill="#a6a6a6" fill-opacity="0.85"/>
<circle cx="229" cy="581.9" r="1.5" fill="#a6a6a6" fill-opacity="0.85"/>
<circle cx="232.8" cy="584.6" r="1.5" fill="#a6a6a6" fill-opacity="0.85"/>
<circle cx="230.1" cy="588.4" r="1.5" fill="#a6a6a6" fill-opacity="0.85"/>
<line x1="231.5" y1="564.1" x2="231.5" y2="592.3" stroke="#111" stroke-width="0.95"/>
<circle cx="244.7" cy="542.2" r="1.5" fill="#a6a6a6" fill-opacity="0.85"/>
<circle cx="246.2" cy="543.6" r="1.5" fill="#a6a6a6" fill-opacity="0.85"/>
<circle cx="244.7" cy="545.5" r="1.5" fill="#a6a6a6" fill-opacity="0.85"/>
<circle cx="248.1" cy="547.4" r="1.5" fill="#a6a6a6" fill-opacity="0.85"/>
<line x1="246.5" y1="542.6" x2="246.5" y2="546.9" stroke="#111" stroke-width="0.95"/>
<circle cx="259" cy="573.2" r="1.5" fill="#a6a6a6" fill-opacity="0.85"/>
<circle cx="261.4" cy="573.2" r="1.5" fill="#a6a6a6" fill-opacity="0.85"/>
<circle cx="263.3" cy="577" r="1.5" fill="#a6a6a6" fill-opacity="0.85"/>
<circle cx="260" cy="581.6" r="1.5" fill="#a6a6a6" fill-opacity="0.85"/>
<circle cx="262.4" cy="586.5" r="1.5" fill="#a6a6a6" fill-opacity="0.85"/>
<line x1="261.5" y1="572.7" x2="261.5" y2="583.7" stroke="#111" stroke-width="0.95"/>
<text transform="translate(174.39,610.3) rotate(-45)" text-anchor="end" font-size="7.85" fill="#4d4d4d" stroke="#4d4d4d" stroke-width="0.25">TANGERINE</text>
<text transform="translate(189.54,610.3) rotate(-45)" text-anchor="end" font-size="7.85" fill="#4d4d4d" stroke="#4d4d4d" stroke-width="0.25">CT-Clip</text>
<text transform="translate(204.7,610.3) rotate(-45)" text-anchor="end" font-size="7.85" fill="#4d4d4d" stroke="#4d4d4d" stroke-width="0.25">CT-Foundation-Gemini</text>
<text transform="translate(219.85,610.3) rotate(-45)" text-anchor="end" font-size="7.85" fill="#4d4d4d" stroke="#4d4d4d" stroke-width="0.25">ViT</text>
<text transform="translate(235,610.3) rotate(-45)" text-anchor="end" font-size="7.85" fill="#4d4d4d" stroke="#4d4d4d" stroke-width="0.25">Med3D-ResNet</text>
<text transform="translate(250.16,610.3) rotate(-45)" text-anchor="end" font-size="7.85" fill="#4d4d4d" stroke="#4d4d4d" stroke-width="0.25">CT-Cancer-Foundation-Patch</text>
<text transform="translate(265.31,610.3) rotate(-45)" text-anchor="end" font-size="7.85" fill="#4d4d4d" stroke="#4d4d4d" stroke-width="0.25">ResNet</text>
<line x1="170.69" y1="525.5" x2="246.46" y2="525.5" stroke="#4a4a4a" stroke-width="1.0"/>
<text transform="translate(193.55,525) scale(1,1.1)" text-anchor="start" font-size="8.0" fill="#111" stroke="#111" stroke-width="0.12"><tspan font-style="italic">P</tspan> <tspan fill="#6a6a6a" stroke="none">=</tspan> .048</text>
<path d="M300 581.93H409.1M300 548.8H409.1M300 515.67H409.1" stroke="#f2f2f2" stroke-width="0.6" fill="none"/>
<path d="M300 598.5H409.1M300 565.37H409.1M300 532.23H409.1M300 499.1H409.1M310.56 494.13V603.47M328.15 494.13V603.47M345.75 494.13V603.47M363.35 494.13V603.47M380.95 494.13V603.47M398.54 494.13V603.47" stroke="#ebebeb" stroke-width="0.8" fill="none"/>
<text transform="translate(296.8,602.1) scale(1,1.08)" text-anchor="end" font-size="8.0" fill="#4d4d4d" stroke="#4d4d4d" stroke-width="0.15">0.4</text>
<text transform="translate(296.8,568.97) scale(1,1.08)" text-anchor="end" font-size="8.0" fill="#4d4d4d" stroke="#4d4d4d" stroke-width="0.15">0.6</text>
<text transform="translate(296.8,535.83) scale(1,1.08)" text-anchor="end" font-size="8.0" fill="#4d4d4d" stroke="#4d4d4d" stroke-width="0.15">0.8</text>
<text transform="translate(296.8,502.7) scale(1,1.08)" text-anchor="end" font-size="8.0" fill="#4d4d4d" stroke="#4d4d4d" stroke-width="0.15">1.0</text>
<text transform="translate(283,548.8) rotate(-90)" text-anchor="middle" font-size="7.1" fill="#000" stroke="#000" stroke-width="0.1">AUROC</text>
<text transform="translate(300,479.6) scale(1,1.15)" font-size="8.5" fill="#000" stroke="#000" stroke-width="0.0">Cancer-NLST-ACRIN</text>
<text transform="translate(300,489.2) scale(1,1.15)" font-size="8.5" fill="#000" stroke="#000" stroke-width="0.0">fintuned-on-SUMMIT</text>
<rect x="305.1" y="510.53" width="10.91" height="92.94" fill="#28528e"/>
<rect x="322.7" y="578.12" width="10.91" height="25.35" fill="#3c639e"/>
<rect x="340.3" y="575.47" width="10.91" height="28" fill="#5075ae"/>
<rect x="357.89" y="581.27" width="10.91" height="22.2" fill="#6486be"/>
<rect x="375.49" y="561.89" width="10.91" height="41.58" fill="#7898ce"/>
<rect x="393.09" y="575.47" width="10.91" height="28" fill="#8ca9de"/>
<circle cx="308" cy="509.6" r="1.5" fill="#a6a6a6" fill-opacity="0.85"/>
<circle cx="310.3" cy="510" r="1.5" fill="#a6a6a6" fill-opacity="0.85"/>
<circle cx="312.3" cy="511.6" r="1.5" fill="#a6a6a6" fill-opacity="0.85"/>
<circle cx="326.1" cy="579.1" r="1.5" fill="#a6a6a6" fill-opacity="0.85"/>
<circle cx="327.5" cy="577.5" r="1.5" fill="#a6a6a6" fill-opacity="0.85"/>
<circle cx="328.8" cy="576.4" r="1.5" fill="#a6a6a6" fill-opacity="0.85"/>
<line x1="328.5" y1="576.5" x2="328.5" y2="579.5" stroke="#111" stroke-width="0.95"/>
<circle cx="345.6" cy="569.6" r="1.5" fill="#a6a6a6" fill-opacity="0.85"/>
<circle cx="348" cy="572.5" r="1.5" fill="#a6a6a6" fill-opacity="0.85"/>
<circle cx="344" cy="577.1" r="1.5" fill="#a6a6a6" fill-opacity="0.85"/>
<circle cx="347.3" cy="580.4" r="1.5" fill="#a6a6a6" fill-opacity="0.85"/>
<line x1="345.5" y1="570.5" x2="345.5" y2="581.1" stroke="#111" stroke-width="0.95"/>
<circle cx="360.7" cy="577.3" r="1.5" fill="#a6a6a6" fill-opacity="0.85"/>
<circle cx="363.7" cy="579.4" r="1.5" fill="#a6a6a6" fill-opacity="0.85"/>
<circle cx="362.7" cy="582.4" r="1.5" fill="#a6a6a6" fill-opacity="0.85"/>
<circle cx="361.9" cy="586.8" r="1.5" fill="#a6a6a6" fill-opacity="0.85"/>
<line x1="363.5" y1="577.3" x2="363.5" y2="585.2" stroke="#111" stroke-width="0.95"/>
<circle cx="381.7" cy="551.3" r="1.5" fill="#a6a6a6" fill-opacity="0.85"/>
<circle cx="380.7" cy="556.6" r="1.5" fill="#a6a6a6" fill-opacity="0.85"/>
<circle cx="380.7" cy="560" r="1.5" fill="#a6a6a6" fill-opacity="0.85"/>
<circle cx="379.2" cy="571.5" r="1.5" fill="#a6a6a6" fill-opacity="0.85"/>
<line x1="380.5" y1="551.3" x2="380.5" y2="572.7" stroke="#111" stroke-width="0.95"/>
<circle cx="396.2" cy="575.5" r="1.5" fill="#a6a6a6" fill-opacity="0.85"/>
<circle cx="398.2" cy="575.5" r="1.5" fill="#a6a6a6" fill-opacity="0.85"/>
<circle cx="399.8" cy="573.3" r="1.5" fill="#a6a6a6" fill-opacity="0.85"/>
<circle cx="397" cy="576.8" r="1.5" fill="#a6a6a6" fill-opacity="0.85"/>
<line x1="398.5" y1="574.3" x2="398.5" y2="576.8" stroke="#111" stroke-width="0.95"/>
<text transform="translate(314.26,610.3) rotate(-45)" text-anchor="end" font-size="7.85" fill="#4d4d4d" stroke="#4d4d4d" stroke-width="0.25">TANGERINE</text>
<text transform="translate(331.85,610.3) rotate(-45)" text-anchor="end" font-size="7.85" fill="#4d4d4d" stroke="#4d4d4d" stroke-width="0.25">CT-Clip</text>
<text transform="translate(349.45,610.3) rotate(-45)" text-anchor="end" font-size="7.85" fill="#4d4d4d" stroke="#4d4d4d" stroke-width="0.25">ViT</text>
<text transform="translate(367.05,610.3) rotate(-45)" text-anchor="end" font-size="7.85" fill="#4d4d4d" stroke="#4d4d4d" stroke-width="0.25">Med3D-ResNet</text>
<text transform="translate(384.65,610.3) rotate(-45)" text-anchor="end" font-size="7.85" fill="#4d4d4d" stroke="#4d4d4d" stroke-width="0.25">CT-Cancer-Foundation-Patch</text>
<text transform="translate(402.24,610.3) rotate(-45)" text-anchor="end" font-size="7.85" fill="#4d4d4d" stroke="#4d4d4d" stroke-width="0.25">ResNet</text>
<line x1="310.56" y1="504.5" x2="380.95" y2="504.5" stroke="#4a4a4a" stroke-width="1.0"/>
<text transform="translate(330.65,504) scale(1,1.1)" text-anchor="start" font-size="8.0" fill="#111" stroke="#111" stroke-width="0.12"><tspan font-style="italic">P</tspan> <tspan fill="#6a6a6a" stroke="none">=</tspan> .001</text>
<path d="M438.5 581.93H547.6M438.5 548.8H547.6M438.5 515.67H547.6" stroke="#f2f2f2" stroke-width="0.6" fill="none"/>
<path d="M438.5 598.5H547.6M438.5 565.37H547.6M438.5 532.23H547.6M438.5 499.1H547.6M449.06 494.13V603.47M466.65 494.13V603.47M484.25 494.13V603.47M501.85 494.13V603.47M519.45 494.13V603.47M537.04 494.13V603.47" stroke="#ebebeb" stroke-width="0.8" fill="none"/>
<text transform="translate(435.3,602.1) scale(1,1.08)" text-anchor="end" font-size="8.0" fill="#4d4d4d" stroke="#4d4d4d" stroke-width="0.15">0.4</text>
<text transform="translate(435.3,568.97) scale(1,1.08)" text-anchor="end" font-size="8.0" fill="#4d4d4d" stroke="#4d4d4d" stroke-width="0.15">0.6</text>
<text transform="translate(435.3,535.83) scale(1,1.08)" text-anchor="end" font-size="8.0" fill="#4d4d4d" stroke="#4d4d4d" stroke-width="0.15">0.8</text>
<text transform="translate(435.3,502.7) scale(1,1.08)" text-anchor="end" font-size="8.0" fill="#4d4d4d" stroke="#4d4d4d" stroke-width="0.15">1.0</text>
<text transform="translate(421.5,548.8) rotate(-90)" text-anchor="middle" font-size="7.1" fill="#000" stroke="#000" stroke-width="0.1">AUROC</text>
<text transform="translate(438.5,479.6) scale(1,1.15)" font-size="8.5" fill="#000" stroke="#000" stroke-width="0.0">Cancer-Duke</text>
<text transform="translate(438.5,489.2) scale(1,1.15)" font-size="8.5" fill="#000" stroke="#000" stroke-width="0.0">fintuned-on-SUMMIT</text>
<rect x="443.6" y="523.45" width="10.91" height="80.02" fill="#28528e"/>
<rect x="461.2" y="578.95" width="10.91" height="24.52" fill="#3c639e"/>
<rect x="478.8" y="572.16" width="10.91" height="31.31" fill="#5075ae"/>
<rect x="496.39" y="576.3" width="10.91" height="27.17" fill="#6486be"/>
<rect x="513.99" y="562.22" width="10.91" height="41.25" fill="#7898ce"/>
<rect x="531.59" y="571" width="10.91" height="32.47" fill="#8ca9de"/>
<circle cx="446.3" cy="523.2" r="1.5" fill="#a6a6a6" fill-opacity="0.85"/>
<circle cx="449.2" cy="522.3" r="1.5" fill="#a6a6a6" fill-opacity="0.85"/>
<circle cx="451" cy="521.1" r="1.5" fill="#a6a6a6" fill-opacity="0.85"/>
<circle cx="449.8" cy="525.3" r="1.5" fill="#a6a6a6" fill-opacity="0.85"/>
<line x1="449.5" y1="522" x2="449.5" y2="525" stroke="#111" stroke-width="0.95"/>
<circle cx="463.9" cy="572.3" r="1.5" fill="#a6a6a6" fill-opacity="0.85"/>
<circle cx="464.5" cy="575.4" r="1.5" fill="#a6a6a6" fill-opacity="0.85"/>
<circle cx="464.2" cy="578.4" r="1.5" fill="#a6a6a6" fill-opacity="0.85"/>
<circle cx="465.1" cy="587.2" r="1.5" fill="#a6a6a6" fill-opacity="0.85"/>
<line x1="466.5" y1="571.9" x2="466.5" y2="585.4" stroke="#111" stroke-width="0.95"/>
<circle cx="483.8" cy="567.8" r="1.5" fill="#a6a6a6" fill-opacity="0.85"/>
<circle cx="485.6" cy="568.4" r="1.5" fill="#a6a6a6" fill-opacity="0.85"/>
<circle cx="483.5" cy="576.6" r="1.5" fill="#a6a6a6" fill-opacity="0.85"/>
<line x1="484.5" y1="566.4" x2="484.5" y2="576.6" stroke="#111" stroke-width="0.95"/>
<circle cx="500.4" cy="572.1" r="1.5" fill="#a6a6a6" fill-opacity="0.85"/>
<circle cx="503.3" cy="572.9" r="1.5" fill="#a6a6a6" fill-opacity="0.85"/>
<circle cx="502.4" cy="577.3" r="1.5" fill="#a6a6a6" fill-opacity="0.85"/>
<circle cx="501.2" cy="584.5" r="1.5" fill="#a6a6a6" fill-opacity="0.85"/>
<line x1="501.5" y1="570.5" x2="501.5" y2="582.5" stroke="#111" stroke-width="0.95"/>
<circle cx="520.1" cy="558.8" r="1.5" fill="#a6a6a6" fill-opacity="0.85"/>
<circle cx="520.9" cy="561.2" r="1.5" fill="#a6a6a6" fill-opacity="0.85"/>
<circle cx="517.3" cy="563.7" r="1.5" fill="#a6a6a6" fill-opacity="0.85"/>
<circle cx="520.5" cy="565.3" r="1.5" fill="#a6a6a6" fill-opacity="0.85"/>
<line x1="519.5" y1="558.8" x2="519.5" y2="564.5" stroke="#111" stroke-width="0.95"/>
<circle cx="538.2" cy="564.5" r="1.5" fill="#a6a6a6" fill-opacity="0.85"/>
<circle cx="539" cy="568.1" r="1.5" fill="#a6a6a6" fill-opacity="0.85"/>
<circle cx="536.2" cy="577.7" r="1.5" fill="#a6a6a6" fill-opacity="0.85"/>
<line x1="537.5" y1="564.1" x2="537.5" y2="578.1" stroke="#111" stroke-width="0.95"/>
<text transform="translate(452.76,610.3) rotate(-45)" text-anchor="end" font-size="7.85" fill="#4d4d4d" stroke="#4d4d4d" stroke-width="0.25">TANGERINE</text>
<text transform="translate(470.35,610.3) rotate(-45)" text-anchor="end" font-size="7.85" fill="#4d4d4d" stroke="#4d4d4d" stroke-width="0.25">CT-Clip</text>
<text transform="translate(487.95,610.3) rotate(-45)" text-anchor="end" font-size="7.85" fill="#4d4d4d" stroke="#4d4d4d" stroke-width="0.25">ViT</text>
<text transform="translate(505.55,610.3) rotate(-45)" text-anchor="end" font-size="7.85" fill="#4d4d4d" stroke="#4d4d4d" stroke-width="0.25">Med3D-ResNet</text>
<text transform="translate(523.15,610.3) rotate(-45)" text-anchor="end" font-size="7.85" fill="#4d4d4d" stroke="#4d4d4d" stroke-width="0.25">CT-Cancer-Foundation-Patch</text>
<text transform="translate(540.74,610.3) rotate(-45)" text-anchor="end" font-size="7.85" fill="#4d4d4d" stroke="#4d4d4d" stroke-width="0.25">ResNet</text>
<line x1="449.06" y1="516" x2="519.45" y2="516" stroke="#8a8a8a" stroke-width="1.0"/>
<text transform="translate(468.85,515.5) scale(1,1.1)" text-anchor="start" font-size="8.0" fill="#111" stroke="#111" stroke-width="0.12"><tspan font-style="italic">P</tspan> <tspan fill="#6a6a6a" stroke="none"><</tspan> .001</text>
<path d="M576.8 581.93H685.9M576.8 548.8H685.9M576.8 515.67H685.9" stroke="#f2f2f2" stroke-width="0.6" fill="none"/>
<path d="M576.8 598.5H685.9M576.8 565.37H685.9M576.8 532.23H685.9M576.8 499.1H685.9M585.89 494.13V603.47M601.04 494.13V603.47M616.2 494.13V603.47M631.35 494.13V603.47M646.5 494.13V603.47M661.66 494.13V603.47M676.81 494.13V603.47" stroke="#ebebeb" stroke-width="0.8" fill="none"/>
<text transform="translate(573.6,602.1) scale(1,1.08)" text-anchor="end" font-size="8.0" fill="#4d4d4d" stroke="#4d4d4d" stroke-width="0.15">0.4</text>
<text transform="translate(573.6,568.97) scale(1,1.08)" text-anchor="end" font-size="8.0" fill="#4d4d4d" stroke="#4d4d4d" stroke-width="0.15">0.6</text>
<text transform="translate(573.6,535.83) scale(1,1.08)" text-anchor="end" font-size="8.0" fill="#4d4d4d" stroke="#4d4d4d" stroke-width="0.15">0.8</text>
<text transform="translate(573.6,502.7) scale(1,1.08)" text-anchor="end" font-size="8.0" fill="#4d4d4d" stroke="#4d4d4d" stroke-width="0.15">1.0</text>
<text transform="translate(559.8,548.8) rotate(-90)" text-anchor="middle" font-size="7.1" fill="#000" stroke="#000" stroke-width="0.1">Mean AUROC - 16 Classes</text>
<text transform="translate(576.8,479.6) scale(1,1.15)" font-size="8.5" fill="#000" stroke="#000" stroke-width="0.0">Multi-Disease-RadChest</text>
<text transform="translate(576.8,489.2) scale(1,1.15)" font-size="8.5" fill="#000" stroke="#000" stroke-width="0.0">fintuned-on-CTRate</text>
<rect x="581.35" y="538.03" width="9.09" height="65.44" fill="#28528e"/>
<rect x="596.5" y="564.04" width="9.09" height="39.43" fill="#39609b"/>
<rect x="611.65" y="543.83" width="9.09" height="59.64" fill="#496fa9"/>
<rect x="626.8" y="560.73" width="9.09" height="42.74" fill="#5a7eb6"/>
<rect x="641.96" y="568.51" width="9.09" height="34.96" fill="#6b8cc3"/>
<rect x="657.11" y="589.06" width="9.09" height="14.41" fill="#7b9ad1"/>
<rect x="672.26" y="571.16" width="9.09" height="32.31" fill="#8ca9de"/>
<circle cx="583.5" cy="538.4" r="1.5" fill="#a6a6a6" fill-opacity="0.85"/>
<circle cx="585.7" cy="537.9" r="1.5" fill="#a6a6a6" fill-opacity="0.85"/>
<circle cx="587" cy="539.3" r="1.5" fill="#a6a6a6" fill-opacity="0.85"/>
<circle cx="598.9" cy="557.8" r="1.5" fill="#a6a6a6" fill-opacity="0.85"/>
<circle cx="601.1" cy="557.3" r="1.5" fill="#a6a6a6" fill-opacity="0.85"/>
<circle cx="598.1" cy="573.6" r="1.5" fill="#a6a6a6" fill-opacity="0.85"/>
<circle cx="599.8" cy="573.6" r="1.5" fill="#a6a6a6" fill-opacity="0.85"/>
<line x1="601.5" y1="552.5" x2="601.5" y2="574.9" stroke="#111" stroke-width="0.95"/>
<circle cx="615.2" cy="542.3" r="1.5" fill="#a6a6a6" fill-opacity="0.85"/>
<circle cx="615.7" cy="544.1" r="1.5" fill="#a6a6a6" fill-opacity="0.85"/>
<circle cx="616.1" cy="545.4" r="1.5" fill="#a6a6a6" fill-opacity="0.85"/>
<circle cx="630.2" cy="549.8" r="1.5" fill="#a6a6a6" fill-opacity="0.85"/>
<circle cx="628.5" cy="553.1" r="1.5" fill="#a6a6a6" fill-opacity="0.85"/>
<circle cx="632.9" cy="563.9" r="1.5" fill="#a6a6a6" fill-opacity="0.85"/>
<circle cx="628.5" cy="565.4" r="1.5" fill="#a6a6a6" fill-opacity="0.85"/>
<circle cx="632.9" cy="569.5" r="1.5" fill="#a6a6a6" fill-opacity="0.85"/>
<line x1="631.5" y1="549.8" x2="631.5" y2="570.5" stroke="#111" stroke-width="0.95"/>
<circle cx="644.5" cy="564" r="1.5" fill="#a6a6a6" fill-opacity="0.85"/>
<circle cx="646.4" cy="564.7" r="1.5" fill="#a6a6a6" fill-opacity="0.85"/>
<circle cx="644.9" cy="568" r="1.5" fill="#a6a6a6" fill-opacity="0.85"/>
<circle cx="644" cy="575.7" r="1.5" fill="#a6a6a6" fill-opacity="0.85"/>
<line x1="646.5" y1="563.6" x2="646.5" y2="573.5" stroke="#111" stroke-width="0.95"/>
<circle cx="659.6" cy="586" r="1.5" fill="#a6a6a6" fill-opacity="0.85"/>
<circle cx="661.4" cy="586.3" r="1.5" fill="#a6a6a6" fill-opacity="0.85"/>
<circle cx="659.2" cy="592.2" r="1.5" fill="#a6a6a6" fill-opacity="0.85"/>
<circle cx="662.9" cy="591.5" r="1.5" fill="#a6a6a6" fill-opacity="0.85"/>
<line x1="661.5" y1="585.6" x2="661.5" y2="591.1" stroke="#111" stroke-width="0.95"/>
<circle cx="678.2" cy="567.6" r="1.5" fill="#a6a6a6" fill-opacity="0.85"/>
<circle cx="677.2" cy="572.8" r="1.5" fill="#a6a6a6" fill-opacity="0.85"/>
<circle cx="675.4" cy="572.8" r="1.5" fill="#a6a6a6" fill-opacity="0.85"/>
<line x1="676.5" y1="568.7" x2="676.5" y2="573.9" stroke="#111" stroke-width="0.95"/>
<text transform="translate(589.59,610.3) rotate(-45)" text-anchor="end" font-size="7.85" fill="#4d4d4d" stroke="#4d4d4d" stroke-width="0.25">TANGERINE</text>
<text transform="translate(604.74,610.3) rotate(-45)" text-anchor="end" font-size="7.85" fill="#4d4d4d" stroke="#4d4d4d" stroke-width="0.25">CT-Clip</text>
<text transform="translate(619.9,610.3) rotate(-45)" text-anchor="end" font-size="7.85" fill="#4d4d4d" stroke="#4d4d4d" stroke-width="0.25">CT-Foundation-Gemini</text>
<text transform="translate(635.05,610.3) rotate(-45)" text-anchor="end" font-size="7.85" fill="#4d4d4d" stroke="#4d4d4d" stroke-width="0.25">ViT</text>
<text transform="translate(650.2,610.3) rotate(-45)" text-anchor="end" font-size="7.85" fill="#4d4d4d" stroke="#4d4d4d" stroke-width="0.25">Med3D-ResNet</text>
<text transform="translate(665.36,610.3) rotate(-45)" text-anchor="end" font-size="7.85" fill="#4d4d4d" stroke="#4d4d4d" stroke-width="0.25">CT-Cancer-Foundation-Full</text>
<text transform="translate(680.51,610.3) rotate(-45)" text-anchor="end" font-size="7.85" fill="#4d4d4d" stroke="#4d4d4d" stroke-width="0.25">ResNet</text>
<line x1="585.89" y1="532.2" x2="616.2" y2="532.2" stroke="#4a4a4a" stroke-width="1.0"/>
<text transform="translate(585.55,531.7) scale(1,1.1)" text-anchor="start" font-size="8.0" fill="#111" stroke="#111" stroke-width="0.12"><tspan font-style="italic">P</tspan> <tspan fill="#6a6a6a" stroke="none"><</tspan> .001</text>
</svg>
</body></html>
